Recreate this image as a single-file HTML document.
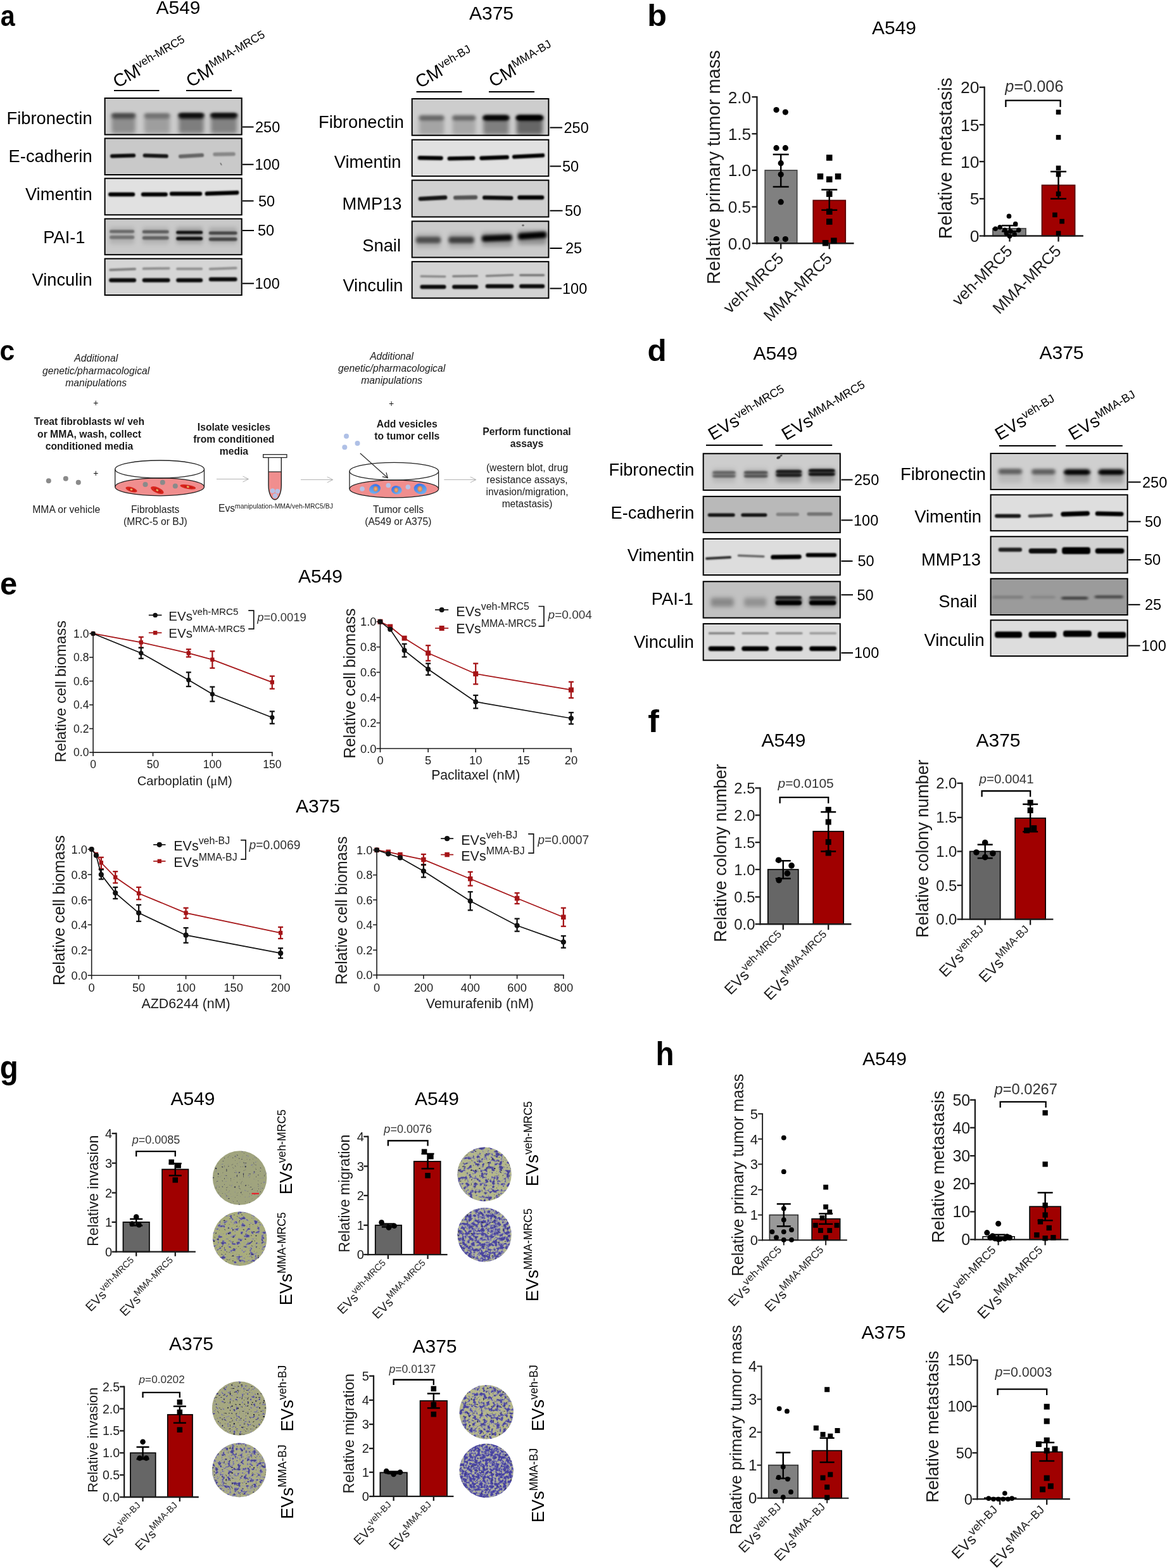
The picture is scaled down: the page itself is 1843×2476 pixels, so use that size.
<!DOCTYPE html>
<html lang="en"><head><meta charset="utf-8"><title>Figure</title>
<style>html,body{margin:0;padding:0;background:#fff}svg{display:block}text{font-family:"Liberation Sans",Arial,Helvetica,sans-serif}</style>
</head><body>
<svg width="1843" height="2476" viewBox="0 0 1843 2476">
<defs><filter id="bl0" x="-50%" y="-50%" width="200%" height="200%"><feGaussianBlur stdDeviation="0.7"/></filter><filter id="bl1" x="-20%" y="-100%" width="140%" height="300%"><feGaussianBlur stdDeviation="1.2 0.9"/></filter><filter id="bl2" x="-20%" y="-100%" width="140%" height="300%"><feGaussianBlur stdDeviation="2 1.4"/></filter><filter id="bl3" x="-20%" y="-100%" width="140%" height="300%"><feGaussianBlur stdDeviation="2.5 2.2"/></filter><filter id="bl4" x="-20%" y="-100%" width="140%" height="300%"><feGaussianBlur stdDeviation="3 3.5"/></filter><clipPath id="c1"><rect x="164.6" y="154" width="218.1" height="59.6"/></clipPath><clipPath id="c2"><rect x="164.6" y="217.5" width="218.1" height="59.5"/></clipPath><clipPath id="c3"><rect x="164.6" y="280.7" width="218.1" height="59.6"/></clipPath><clipPath id="c4"><rect x="164.6" y="344.5" width="218.1" height="58.7"/></clipPath><clipPath id="c5"><rect x="164.6" y="407.5" width="218.1" height="59.5"/></clipPath><clipPath id="c6"><rect x="649.7" y="155" width="217.7" height="59.7"/></clipPath><clipPath id="c7"><rect x="649.7" y="219.7" width="217.7" height="59.5"/></clipPath><clipPath id="c8"><rect x="649.7" y="283.6" width="217.7" height="59.9"/></clipPath><clipPath id="c9"><rect x="649.7" y="348.4" width="217.7" height="59.1"/></clipPath><clipPath id="c10"><rect x="649.7" y="412.2" width="217.7" height="59.5"/></clipPath><clipPath id="c11"><rect x="1109.7" y="715.3" width="218.1" height="59.7"/></clipPath><clipPath id="c12"><rect x="1109.7" y="782.9" width="218.1" height="59.1"/></clipPath><clipPath id="c13"><rect x="1109.7" y="849.9" width="218.1" height="59.1"/></clipPath><clipPath id="c14"><rect x="1109.7" y="917.3" width="218.1" height="59.3"/></clipPath><clipPath id="c15"><rect x="1109.7" y="984" width="218.1" height="59.6"/></clipPath><clipPath id="c16"><rect x="1563.6" y="715" width="218" height="59"/></clipPath><clipPath id="c17"><rect x="1563.6" y="780.4" width="218" height="58.8"/></clipPath><clipPath id="c18"><rect x="1563.6" y="846.3" width="218" height="59.4"/></clipPath><clipPath id="c19"><rect x="1563.6" y="912.8" width="218" height="59.2"/></clipPath><clipPath id="c20"><rect x="1563.6" y="978.3" width="218" height="58.7"/></clipPath><linearGradient id="cg1" x1="0" y1="1" x2="1" y2="0"><stop offset="0" stop-color="#7fbdee"/><stop offset=".55" stop-color="#4f8dea"/><stop offset="1" stop-color="#2f62ea"/></linearGradient><linearGradient id="cg2" x1="0" y1="0" x2="1" y2="1"><stop offset="0" stop-color="#2f62ea"/><stop offset=".45" stop-color="#4f8dea"/><stop offset="1" stop-color="#82c0ee"/></linearGradient><radialGradient id="cn"><stop offset="0" stop-color="#eeb080"/><stop offset="1" stop-color="#d8854a"/></radialGradient><filter id="m1" x="0" y="0" width="1" height="1" color-interpolation-filters="sRGB"><feTurbulence type="fractalNoise" baseFrequency="0.2 0.24" numOctaves="2" seed="3" result="n"/><feTurbulence type="fractalNoise" baseFrequency="0.3 0.34" numOctaves="1" seed="10" result="n2"/><feColorMatrix in="n" type="matrix" values="0 0 0 0 0.5 0 0 0 0 0.5 0 0 0 0 0.6 5 0 0 0 -3.3" result="a"/><feColorMatrix in="n" type="matrix" values="0 0 0 0 0.29 0 0 0 0 0.27 0 0 0 0 0.58 6 0 0 0 -5.4" result="b"/><feColorMatrix in="n2" type="matrix" values="0 0 0 0 0.22 0 0 0 0 0.22 0 0 0 0 0.3 9 0 0 0 -5.94" result="c"/><feMerge result="m"><feMergeNode in="a"/><feMergeNode in="b"/><feMergeNode in="c"/></feMerge><feGaussianBlur in="m" stdDeviation="0.75" result="mb"/><feComposite in="mb" in2="SourceGraphic" operator="atop"/></filter><filter id="m2" x="0" y="0" width="1" height="1" color-interpolation-filters="sRGB"><feTurbulence type="fractalNoise" baseFrequency="0.16 0.18" numOctaves="2" seed="11" result="n"/><feTurbulence type="fractalNoise" baseFrequency="0.3 0.34" numOctaves="1" seed="18" result="n2"/><feColorMatrix in="n" type="matrix" values="0 0 0 0 0.56 0 0 0 0 0.56 0 0 0 0 0.72 5 0 0 0 -2.6" result="a"/><feColorMatrix in="n" type="matrix" values="0 0 0 0 0.29 0 0 0 0 0.27 0 0 0 0 0.58 6 0 0 0 -3.6" result="b"/><feColorMatrix in="n2" type="matrix" values="0 0 0 0 0.2 0 0 0 0 0.2 0 0 0 0 0.3 9 0 0 0 -5.94" result="c"/><feMerge result="m"><feMergeNode in="a"/><feMergeNode in="b"/><feMergeNode in="c"/></feMerge><feGaussianBlur in="m" stdDeviation="0.75" result="mb"/><feComposite in="mb" in2="SourceGraphic" operator="atop"/></filter><filter id="m3" x="0" y="0" width="1" height="1" color-interpolation-filters="sRGB"><feTurbulence type="fractalNoise" baseFrequency="0.17 0.19" numOctaves="2" seed="5" result="n"/><feTurbulence type="fractalNoise" baseFrequency="0.3 0.34" numOctaves="1" seed="12" result="n2"/><feColorMatrix in="n" type="matrix" values="0 0 0 0 0.56 0 0 0 0 0.56 0 0 0 0 0.72 5 0 0 0 -2.25" result="a"/><feColorMatrix in="n" type="matrix" values="0 0 0 0 0.29 0 0 0 0 0.27 0 0 0 0 0.58 6 0 0 0 -3.18" result="b"/><feColorMatrix in="n2" type="matrix" values="0 0 0 0 0.2 0 0 0 0 0.2 0 0 0 0 0.3 9 0 0 0 -5.94" result="c"/><feMerge result="m"><feMergeNode in="a"/><feMergeNode in="b"/><feMergeNode in="c"/></feMerge><feGaussianBlur in="m" stdDeviation="0.75" result="mb"/><feComposite in="mb" in2="SourceGraphic" operator="atop"/></filter><filter id="m4" x="0" y="0" width="1" height="1" color-interpolation-filters="sRGB"><feTurbulence type="fractalNoise" baseFrequency="0.2 0.22" numOctaves="2" seed="8" result="n"/><feTurbulence type="fractalNoise" baseFrequency="0.3 0.34" numOctaves="1" seed="15" result="n2"/><feColorMatrix in="n" type="matrix" values="0 0 0 0 0.56 0 0 0 0 0.56 0 0 0 0 0.72 5 0 0 0 -1.7" result="a"/><feColorMatrix in="n" type="matrix" values="0 0 0 0 0.29 0 0 0 0 0.27 0 0 0 0 0.62 6 0 0 0 -2.7" result="b"/><feColorMatrix in="n2" type="matrix" values="0 0 0 0 0.2 0 0 0 0 0.2 0 0 0 0 0.3 9 0 0 0 -5.94" result="c"/><feMerge result="m"><feMergeNode in="a"/><feMergeNode in="b"/><feMergeNode in="c"/></feMerge><feGaussianBlur in="m" stdDeviation="0.75" result="mb"/><feComposite in="mb" in2="SourceGraphic" operator="atop"/></filter><filter id="m5" x="0" y="0" width="1" height="1" color-interpolation-filters="sRGB"><feTurbulence type="fractalNoise" baseFrequency="0.22 0.25" numOctaves="2" seed="21" result="n"/><feTurbulence type="fractalNoise" baseFrequency="0.32 0.36" numOctaves="1" seed="28" result="n2"/><feColorMatrix in="n" type="matrix" values="0 0 0 0 0.55 0 0 0 0 0.55 0 0 0 0 0.72 5 0 0 0 -2.8" result="a"/><feColorMatrix in="n" type="matrix" values="0 0 0 0 0.26 0 0 0 0 0.24 0 0 0 0 0.55 6 0 0 0 -3.84" result="b"/><feColorMatrix in="n2" type="matrix" values="0 0 0 0 0.15 0 0 0 0 0.15 0 0 0 0 0.22 9 0 0 0 -5.76" result="c"/><feMerge result="m"><feMergeNode in="a"/><feMergeNode in="b"/><feMergeNode in="c"/></feMerge><feGaussianBlur in="m" stdDeviation="0.75" result="mb"/><feComposite in="mb" in2="SourceGraphic" operator="atop"/></filter><filter id="m6" x="0" y="0" width="1" height="1" color-interpolation-filters="sRGB"><feTurbulence type="fractalNoise" baseFrequency="0.2 0.22" numOctaves="2" seed="14" result="n"/><feTurbulence type="fractalNoise" baseFrequency="0.32 0.36" numOctaves="1" seed="21" result="n2"/><feColorMatrix in="n" type="matrix" values="0 0 0 0 0.56 0 0 0 0 0.56 0 0 0 0 0.72 5 0 0 0 -2.25" result="a"/><feColorMatrix in="n" type="matrix" values="0 0 0 0 0.29 0 0 0 0 0.27 0 0 0 0 0.58 6 0 0 0 -3.3" result="b"/><feColorMatrix in="n2" type="matrix" values="0 0 0 0 0.2 0 0 0 0 0.2 0 0 0 0 0.3 9 0 0 0 -5.76" result="c"/><feMerge result="m"><feMergeNode in="a"/><feMergeNode in="b"/><feMergeNode in="c"/></feMerge><feGaussianBlur in="m" stdDeviation="0.75" result="mb"/><feComposite in="mb" in2="SourceGraphic" operator="atop"/></filter><filter id="m7" x="0" y="0" width="1" height="1" color-interpolation-filters="sRGB"><feTurbulence type="fractalNoise" baseFrequency="0.19 0.21" numOctaves="2" seed="17" result="n"/><feTurbulence type="fractalNoise" baseFrequency="0.32 0.36" numOctaves="1" seed="24" result="n2"/><feColorMatrix in="n" type="matrix" values="0 0 0 0 0.56 0 0 0 0 0.56 0 0 0 0 0.72 5 0 0 0 -2.1" result="a"/><feColorMatrix in="n" type="matrix" values="0 0 0 0 0.29 0 0 0 0 0.27 0 0 0 0 0.62 6 0 0 0 -3.06" result="b"/><feColorMatrix in="n2" type="matrix" values="0 0 0 0 0.2 0 0 0 0 0.2 0 0 0 0 0.3 9 0 0 0 -5.76" result="c"/><feMerge result="m"><feMergeNode in="a"/><feMergeNode in="b"/><feMergeNode in="c"/></feMerge><feGaussianBlur in="m" stdDeviation="0.75" result="mb"/><feComposite in="mb" in2="SourceGraphic" operator="atop"/></filter><filter id="m8" x="0" y="0" width="1" height="1" color-interpolation-filters="sRGB"><feTurbulence type="fractalNoise" baseFrequency="0.24 0.26" numOctaves="2" seed="29" result="n"/><feTurbulence type="fractalNoise" baseFrequency="0.32 0.36" numOctaves="1" seed="36" result="n2"/><feColorMatrix in="n" type="matrix" values="0 0 0 0 0.56 0 0 0 0 0.56 0 0 0 0 0.72 5 0 0 0 -1.5" result="a"/><feColorMatrix in="n" type="matrix" values="0 0 0 0 0.28 0 0 0 0 0.26 0 0 0 0 0.63 6 0 0 0 -2.52" result="b"/><feColorMatrix in="n2" type="matrix" values="0 0 0 0 0.2 0 0 0 0 0.2 0 0 0 0 0.3 9 0 0 0 -5.94" result="c"/><feMerge result="m"><feMergeNode in="a"/><feMergeNode in="b"/><feMergeNode in="c"/></feMerge><feGaussianBlur in="m" stdDeviation="0.75" result="mb"/><feComposite in="mb" in2="SourceGraphic" operator="atop"/></filter></defs>
<rect width="1843" height="2476" fill="#fff"/>
<text transform="translate(0.75 40.55) scale(0.87 0.96)" font-size="47.5" font-weight="bold">a</text>
<text transform="translate(1022.22 40.52) scale(1.06 1)" font-size="47.5" font-weight="bold">b</text>
<text transform="translate(-0.41 569.05) scale(0.9 0.94)" font-size="47.5" font-weight="bold">c</text>
<text transform="translate(1022.52 569.52) scale(1.04 1)" font-size="47.5" font-weight="bold">d</text>
<text transform="translate(0.05 938.79) scale(1.03 1.06)" font-size="47.5" font-weight="bold">e</text>
<text transform="translate(1023.21 1156) scale(1.11 1.06)" font-size="47.5" font-weight="bold">f</text>
<text transform="translate(-0.3 1702.53) scale(1 1.1)" font-size="47.5" font-weight="bold">g</text>
<text transform="translate(1035.47 1682.3) scale(1 1.08)" font-size="47.5" font-weight="bold">h</text>
<text x="281.5" y="21.7" font-size="30" text-anchor="middle">A549</text>
<text x="776" y="30.5" font-size="30" text-anchor="middle">A375</text>
<text x="1412" y="54" font-size="30" text-anchor="middle">A549</text>
<text x="1224.5" y="567.5" font-size="30" text-anchor="middle">A549</text>
<text x="1676.5" y="566.5" font-size="30" text-anchor="middle">A375</text>
<text x="506" y="920" font-size="30" text-anchor="middle">A549</text>
<text x="502" y="1283" font-size="30" text-anchor="middle">A375</text>
<text x="1237.5" y="1179" font-size="30" text-anchor="middle">A549</text>
<text x="1576.5" y="1179" font-size="30" text-anchor="middle">A375</text>
<text x="304.5" y="1745.2" font-size="30" text-anchor="middle">A549</text>
<text x="690" y="1745.2" font-size="30" text-anchor="middle">A549</text>
<text x="302" y="2132" font-size="30" text-anchor="middle">A375</text>
<text x="686.5" y="2136.4" font-size="30" text-anchor="middle">A375</text>
<text x="1397" y="1682.3" font-size="30" text-anchor="middle">A549</text>
<text x="1395.5" y="2114" font-size="30" text-anchor="middle">A375</text>
<text transform="translate(185.5 139.5) rotate(-30)" font-size="28.5">CM<tspan dy="-10.26" font-size="17.96">veh-MRC5</tspan></text>
<text transform="translate(301 138.5) rotate(-30)" font-size="28.5">CM<tspan dy="-10.26" font-size="17.96">MMA-MRC5</tspan></text>
<line x1="180" y1="143" x2="251.5" y2="143" stroke="#000" stroke-width="2"/>
<line x1="294" y1="143" x2="366" y2="143" stroke="#000" stroke-width="2"/>
<g clip-path="url(#c1)">
<rect x="164.6" y="154" width="218.1" height="59.6" fill="#cbcbcb"/>
<g filter="url(#bl4)">
<rect x="176.27" y="181" width="37.53" height="30" rx="4" fill="#000" opacity="0.3"/>
<rect x="227.88" y="181" width="40.35" height="30" rx="4" fill="#000" opacity="0.22"/>
<rect x="282.29" y="181" width="39.41" height="30" rx="4" fill="#000" opacity="0.38"/>
<rect x="332.96" y="181" width="41.28" height="30" rx="4" fill="#000" opacity="0.36"/>
</g>
<g filter="url(#bl3)">
<rect x="176.27" y="178.5" width="37.53" height="9" rx="4" fill="#000" opacity="0.45"/>
<rect x="227.88" y="178.5" width="40.35" height="9" rx="4" fill="#000" opacity="0.28"/>
<rect x="282.29" y="178.5" width="39.41" height="9" rx="4" fill="#000" opacity="0.85"/>
<rect x="332.96" y="178.5" width="41.28" height="9" rx="4" fill="#000" opacity="0.8"/>
</g>
<g filter="url(#bl2)">
<rect x="176.27" y="179" width="37.53" height="5" rx="2.5" fill="#000" opacity="0.2"/>
<rect x="227.88" y="179" width="40.35" height="5" rx="2.5" fill="#000" opacity="0.1"/>
<rect x="282.29" y="179" width="39.41" height="5" rx="2.5" fill="#000" opacity="0.6"/>
<rect x="332.96" y="179" width="41.28" height="5" rx="2.5" fill="#000" opacity="0.7"/>
</g>
</g>
<rect x="165.6" y="155" width="216.1" height="57.6" fill="none" stroke="#000" stroke-width="2"/>
<text x="145.6" y="195.6" font-size="27.3" text-anchor="end">Fibronectin</text>
<line x1="383" y1="200.5" x2="400.5" y2="200.5" stroke="#000" stroke-width="2"/>
<text x="403" y="208.84" font-size="23.5">250</text>
<g clip-path="url(#c2)">
<rect x="164.6" y="217.5" width="218.1" height="59.5" fill="#c9c9c9"/>
<g filter="url(#bl1)">
<rect x="174.02" y="243" width="40.16" height="6" rx="3" fill="#000" opacity="0.95" transform="rotate(-1.5 194.1 246)"/>
<rect x="225.62" y="243" width="40.16" height="6" rx="3" fill="#000" opacity="0.9" transform="rotate(2 245.7 246)"/>
<rect x="281.92" y="243" width="40.16" height="6" rx="3" fill="#000" opacity="0.5" transform="rotate(-3 302 246)"/>
<rect x="336.34" y="240.5" width="35.47" height="6" rx="3" fill="#000" opacity="0.33" transform="rotate(-1 354.07 243.5)"/>
</g>
</g>
<rect x="165.6" y="218.5" width="216.1" height="57.5" fill="none" stroke="#000" stroke-width="2"/>
<ellipse cx="349" cy="259" rx="0.8" ry="2.6" fill="#000" opacity="0.5" filter="url(#bl0)" transform="rotate(-30 349 259)"/>
<text x="145.6" y="256" font-size="27.3" text-anchor="end">E-cadherin</text>
<line x1="383" y1="259.7" x2="400.5" y2="259.7" stroke="#000" stroke-width="2"/>
<text x="402.5" y="268.04" font-size="23.5">100</text>
<g clip-path="url(#c3)">
<rect x="164.6" y="280.7" width="218.1" height="59.6" fill="#e1e1e1"/>
<g filter="url(#bl1)">
<rect x="171.02" y="303.7" width="42.22" height="6.6" rx="3.3" fill="#000" opacity="1"/>
<rect x="222.81" y="303.7" width="42.03" height="6.6" rx="3.3" fill="#000" opacity="1"/>
<rect x="267.85" y="302.7" width="51.42" height="6.6" rx="3.3" fill="#000" opacity="1"/>
<rect x="323.58" y="301.7" width="53.86" height="6.6" rx="3.3" fill="#000" opacity="1" transform="rotate(-2 350.51 305)"/>
</g>
</g>
<rect x="165.6" y="281.7" width="216.1" height="57.6" fill="none" stroke="#000" stroke-width="2"/>
<text x="145.6" y="316.4" font-size="27.3" text-anchor="end">Vimentin</text>
<line x1="383" y1="317.3" x2="400.5" y2="317.3" stroke="#000" stroke-width="2"/>
<text x="408" y="325.64" font-size="23.5">50</text>
<g clip-path="url(#c4)">
<rect x="164.6" y="344.5" width="218.1" height="58.7" fill="#c9c9c9"/>
<g filter="url(#bl4)">
<rect x="172.89" y="359" width="39.41" height="26" rx="4" fill="#000" opacity="0.12"/>
<rect x="224.69" y="359" width="42.03" height="26" rx="4" fill="#000" opacity="0.12"/>
<rect x="278.17" y="359" width="42.03" height="26" rx="4" fill="#000" opacity="0.2"/>
<rect x="329.77" y="359" width="44.85" height="26" rx="4" fill="#000" opacity="0.15"/>
</g>
<g filter="url(#bl1)">
<rect x="172.89" y="363.1" width="39.41" height="5" rx="2.5" fill="#000" opacity="0.4"/>
<rect x="224.69" y="363.6" width="42.03" height="5" rx="2.5" fill="#000" opacity="0.48"/>
<rect x="278.17" y="364.6" width="42.03" height="5" rx="2.5" fill="#000" opacity="0.9"/>
<rect x="329.77" y="365.6" width="44.85" height="5" rx="2.5" fill="#000" opacity="0.6"/>
</g>
<g filter="url(#bl1)">
<rect x="172.89" y="372.05" width="39.41" height="5.5" rx="2.75" fill="#000" opacity="0.35"/>
<rect x="224.69" y="373.05" width="42.03" height="5.5" rx="2.75" fill="#000" opacity="0.45"/>
<rect x="278.17" y="374.05" width="42.03" height="5.5" rx="2.75" fill="#000" opacity="0.9"/>
<rect x="329.77" y="375.05" width="44.85" height="5.5" rx="2.75" fill="#000" opacity="0.6"/>
</g>
</g>
<rect x="165.6" y="345.5" width="216.1" height="56.7" fill="none" stroke="#000" stroke-width="2"/>
<text x="134.5" y="383.5" font-size="27.3" text-anchor="end">PAI-1</text>
<line x1="383" y1="364" x2="401" y2="364" stroke="#000" stroke-width="2"/>
<text x="407" y="372.34" font-size="23.5">50</text>
<g clip-path="url(#c5)">
<rect x="164.6" y="407.5" width="218.1" height="59.5" fill="#d5d5d5"/>
<g filter="url(#bl1)">
<rect x="172.14" y="423.5" width="42.97" height="4" rx="2" fill="#000" opacity="0.4" transform="rotate(-2 193.63 425.5)"/>
<rect x="224.69" y="422" width="43.91" height="4" rx="2" fill="#000" opacity="0.33" transform="rotate(-1 246.64 424)"/>
<rect x="278.17" y="422.5" width="42.03" height="4" rx="2" fill="#000" opacity="0.33"/>
<rect x="329.77" y="422" width="44.85" height="4" rx="2" fill="#000" opacity="0.33" transform="rotate(-2 352.2 424)"/>
</g>
<g filter="url(#bl1)">
<rect x="172.14" y="439.2" width="42.97" height="6.6" rx="3.3" fill="#000" opacity="0.95"/>
<rect x="224.69" y="439.2" width="43.91" height="6.6" rx="3.3" fill="#000" opacity="0.95"/>
<rect x="278.17" y="439.2" width="42.03" height="6.6" rx="3.3" fill="#000" opacity="0.95"/>
<rect x="329.77" y="437.7" width="44.85" height="6.6" rx="3.3" fill="#000" opacity="0.95"/>
</g>
</g>
<rect x="165.6" y="408.5" width="216.1" height="57.5" fill="none" stroke="#000" stroke-width="2"/>
<text x="145.6" y="450.8" font-size="27.3" text-anchor="end">Vinculin</text>
<line x1="383" y1="447.6" x2="401" y2="447.6" stroke="#000" stroke-width="2"/>
<text x="402.5" y="455.94" font-size="23.5">100</text>
<text transform="translate(663 140) rotate(-30)" font-size="28.5">CM<tspan dy="-10.26" font-size="17.96">veh-BJ</tspan></text>
<text transform="translate(779 138.5) rotate(-30)" font-size="28.5">CM<tspan dy="-10.26" font-size="17.96">MMA-BJ</tspan></text>
<line x1="657.6" y1="145" x2="729.5" y2="145" stroke="#000" stroke-width="2"/>
<line x1="772" y1="145" x2="844" y2="145" stroke="#000" stroke-width="2"/>
<g clip-path="url(#c6)">
<rect x="649.7" y="155" width="217.7" height="59.7" fill="#cdcdcd"/>
<g filter="url(#bl4)">
<rect x="661.9" y="185" width="39.41" height="28" rx="4" fill="#000" opacity="0.2"/>
<rect x="714.44" y="185" width="36.59" height="28" rx="4" fill="#000" opacity="0.18"/>
<rect x="763.23" y="185" width="40.35" height="28" rx="4" fill="#000" opacity="0.38"/>
<rect x="815.78" y="185" width="41.28" height="28" rx="4" fill="#000" opacity="0.5"/>
</g>
<g filter="url(#bl3)">
<rect x="661.9" y="181.5" width="39.41" height="9" rx="4" fill="#000" opacity="0.35"/>
<rect x="714.44" y="181.5" width="36.59" height="9" rx="4" fill="#000" opacity="0.35"/>
<rect x="763.23" y="181.5" width="40.35" height="9" rx="4" fill="#000" opacity="0.9"/>
<rect x="815.78" y="181.5" width="41.28" height="9" rx="4" fill="#000" opacity="1"/>
</g>
<g filter="url(#bl2)">
<rect x="661.9" y="183" width="39.41" height="6" rx="3" fill="#000" opacity="0.1"/>
<rect x="714.44" y="183" width="36.59" height="6" rx="3" fill="#000" opacity="0.1"/>
<rect x="763.23" y="183" width="40.35" height="6" rx="3" fill="#000" opacity="0.7"/>
<rect x="815.78" y="183" width="41.28" height="6" rx="3" fill="#000" opacity="1"/>
</g>
</g>
<rect x="650.7" y="156" width="215.7" height="57.7" fill="none" stroke="#000" stroke-width="2"/>
<text x="638" y="201.5" font-size="27.3" text-anchor="end">Fibronectin</text>
<line x1="868.5" y1="201.5" x2="888" y2="201.5" stroke="#000" stroke-width="2"/>
<text x="890.5" y="209.84" font-size="23.5">250</text>
<g clip-path="url(#c7)">
<rect x="649.7" y="219.7" width="217.7" height="59.5" fill="#e1e1e1"/>
<g filter="url(#bl1)">
<rect x="659.65" y="246.3" width="40.16" height="6.4" rx="3.2" fill="#000" opacity="1" transform="rotate(1 679.73 249.5)"/>
<rect x="706.56" y="246.8" width="43.91" height="6.4" rx="3.2" fill="#000" opacity="1" transform="rotate(-1 728.52 250)"/>
<rect x="757.23" y="245.8" width="46.73" height="6.4" rx="3.2" fill="#000" opacity="1" transform="rotate(-2 780.59 249)"/>
<rect x="808.83" y="243.3" width="51.42" height="6.4" rx="3.2" fill="#000" opacity="1" transform="rotate(-3 834.54 246.5)"/>
</g>
</g>
<rect x="650.7" y="220.7" width="215.7" height="57.5" fill="none" stroke="#000" stroke-width="2"/>
<text x="633.5" y="265" font-size="27.3" text-anchor="end">Vimentin</text>
<line x1="868.5" y1="262.5" x2="886" y2="262.5" stroke="#000" stroke-width="2"/>
<text x="888" y="270.84" font-size="23.5">50</text>
<g clip-path="url(#c8)">
<rect x="649.7" y="283.6" width="217.7" height="59.9" fill="#d0d0d0"/>
<g filter="url(#bl1)">
<rect x="660.59" y="309.6" width="45.79" height="6.6" rx="3.3" fill="#000" opacity="0.9" transform="rotate(-3 683.48 312.9)"/>
<rect x="715.94" y="308.6" width="38.28" height="6.6" rx="3.3" fill="#000" opacity="0.6" transform="rotate(-1 735.09 311.9)"/>
<rect x="761.92" y="309.1" width="48.6" height="6.6" rx="3.3" fill="#000" opacity="0.95" transform="rotate(1 786.22 312.4)"/>
<rect x="817.28" y="308.6" width="42.03" height="6.6" rx="3.3" fill="#000" opacity="1"/>
</g>
</g>
<rect x="650.7" y="284.6" width="215.7" height="57.9" fill="none" stroke="#000" stroke-width="2"/>
<text x="634.5" y="330.5" font-size="27.3" text-anchor="end">MMP13</text>
<line x1="868.5" y1="332.7" x2="888.5" y2="332.7" stroke="#000" stroke-width="2"/>
<text x="892" y="341.04" font-size="23.5">50</text>
<g clip-path="url(#c9)">
<rect x="649.7" y="348.4" width="217.7" height="59.1" fill="#cbcbcb"/>
<g filter="url(#bl4)">
<rect x="656.83" y="369" width="39.22" height="22" rx="4" fill="#000" opacity="0.15"/>
<rect x="708.44" y="369" width="40.16" height="22" rx="4" fill="#000" opacity="0.18"/>
<rect x="760.98" y="367" width="47.66" height="22" rx="4" fill="#000" opacity="0.25"/>
<rect x="818.22" y="364" width="44.85" height="22" rx="4" fill="#000" opacity="0.3"/>
</g>
<g filter="url(#bl3)">
<rect x="656.83" y="374" width="39.22" height="10" rx="4" fill="#000" opacity="0.55"/>
<rect x="708.44" y="374" width="40.16" height="10" rx="4" fill="#000" opacity="0.62"/>
<rect x="760.98" y="371" width="47.66" height="10" rx="4" fill="#000" opacity="0.95" transform="rotate(-2 784.81 376)"/>
<rect x="818.22" y="367" width="44.85" height="10" rx="4" fill="#000" opacity="1" transform="rotate(-4 840.64 372)"/>
</g>
</g>
<rect x="650.7" y="349.4" width="215.7" height="57.1" fill="none" stroke="#000" stroke-width="2"/>
<ellipse cx="826" cy="355.8" rx="2" ry="1.6" fill="#000" opacity="0.45" filter="url(#bl0)"/>
<text x="633" y="397" font-size="27.3" text-anchor="end">Snail</text>
<line x1="868.5" y1="392" x2="887.5" y2="392" stroke="#000" stroke-width="2"/>
<text x="893" y="400.34" font-size="23.5">25</text>
<g clip-path="url(#c10)">
<rect x="649.7" y="412.2" width="217.7" height="59.5" fill="#d3d3d3"/>
<g filter="url(#bl1)">
<rect x="663.4" y="434.75" width="41.1" height="3.5" rx="1.75" fill="#000" opacity="0.35" transform="rotate(1 683.95 436.5)"/>
<rect x="714.07" y="434.25" width="41.1" height="3.5" rx="1.75" fill="#000" opacity="0.4" transform="rotate(-1 734.62 436)"/>
<rect x="766.61" y="433.25" width="44.85" height="3.5" rx="1.75" fill="#000" opacity="0.4" transform="rotate(-2 789.04 435)"/>
<rect x="820.09" y="432.75" width="40.16" height="3.5" rx="1.75" fill="#000" opacity="0.45"/>
</g>
<g filter="url(#bl1)">
<rect x="663.4" y="449.7" width="41.1" height="6.6" rx="3.3" fill="#000" opacity="0.95"/>
<rect x="714.07" y="449.7" width="41.1" height="6.6" rx="3.3" fill="#000" opacity="0.95"/>
<rect x="766.61" y="448.7" width="44.85" height="6.6" rx="3.3" fill="#000" opacity="0.95"/>
<rect x="820.09" y="448.7" width="40.16" height="6.6" rx="3.3" fill="#000" opacity="0.95"/>
</g>
</g>
<rect x="650.7" y="413.2" width="215.7" height="57.5" fill="none" stroke="#000" stroke-width="2"/>
<text x="636.5" y="459.5" font-size="27.3" text-anchor="end">Vinculin</text>
<line x1="868.5" y1="455.5" x2="887" y2="455.5" stroke="#000" stroke-width="2"/>
<text x="888" y="463.84" font-size="23.5">100</text>
<text transform="translate(1125.4 696) rotate(-30.5)" font-size="28">EVs<tspan dy="-9.52" font-size="18.2">veh-MRC5</tspan></text>
<text transform="translate(1241.6 696) rotate(-30.5)" font-size="28">EVs<tspan dy="-9.52" font-size="18.2">MMA-MRC5</tspan></text>
<line x1="1115" y1="703" x2="1204.5" y2="703" stroke="#000" stroke-width="2"/>
<line x1="1224.5" y1="703" x2="1314.2" y2="703" stroke="#000" stroke-width="2"/>
<g clip-path="url(#c11)">
<rect x="1109.7" y="715.3" width="218.1" height="59.7" fill="#cdcdcd"/>
<g filter="url(#bl4)">
<rect x="1125.28" y="740" width="36.4" height="22" rx="4" fill="#000" opacity="0.1"/>
<rect x="1175.01" y="740" width="37.34" height="22" rx="4" fill="#000" opacity="0.1"/>
<rect x="1225.67" y="740" width="40.16" height="22" rx="4" fill="#000" opacity="0.25"/>
<rect x="1277.28" y="740" width="41.1" height="22" rx="4" fill="#000" opacity="0.25"/>
</g>
<g filter="url(#bl2)">
<rect x="1125.28" y="743.5" width="36.4" height="11" rx="4" fill="#000" opacity="0.3"/>
<rect x="1175.01" y="743.5" width="37.34" height="11" rx="4" fill="#000" opacity="0.35"/>
<rect x="1225.67" y="742" width="40.16" height="11" rx="4" fill="#000" opacity="0.6"/>
<rect x="1277.28" y="740.5" width="41.1" height="11" rx="4" fill="#000" opacity="0.6"/>
</g>
<g filter="url(#bl1)">
<rect x="1125.28" y="744" width="36.4" height="4" rx="2" fill="#000" opacity="0.22"/>
<rect x="1175.01" y="744" width="37.34" height="4" rx="2" fill="#000" opacity="0.3"/>
<rect x="1225.67" y="742.5" width="40.16" height="4" rx="2" fill="#000" opacity="0.6"/>
<rect x="1277.28" y="741" width="41.1" height="4" rx="2" fill="#000" opacity="0.7"/>
</g>
<g filter="url(#bl1)">
<rect x="1125.28" y="750" width="36.4" height="4" rx="2" fill="#000" opacity="0.22"/>
<rect x="1175.01" y="750" width="37.34" height="4" rx="2" fill="#000" opacity="0.3"/>
<rect x="1225.67" y="748.5" width="40.16" height="4" rx="2" fill="#000" opacity="0.55"/>
<rect x="1277.28" y="747" width="41.1" height="4" rx="2" fill="#000" opacity="0.65"/>
</g>
</g>
<rect x="1110.7" y="716.3" width="216.1" height="57.7" fill="none" stroke="#000" stroke-width="2"/>
<ellipse cx="1229.5" cy="722.5" rx="3.2" ry="2" fill="#000" opacity="0.75" filter="url(#bl0)" transform="rotate(-25 1229.5 722.5)"/>
<ellipse cx="1233.5" cy="719.5" rx="2.2" ry="1.3" fill="#000" opacity="0.7" filter="url(#bl0)" transform="rotate(-25 1233.5 719.5)"/>
<text x="1096.5" y="750.6" font-size="27.3" text-anchor="end">Fibronectin</text>
<line x1="1328.5" y1="757.6" x2="1346.5" y2="757.6" stroke="#000" stroke-width="2"/>
<text x="1349" y="765.94" font-size="23.5">250</text>
<g clip-path="url(#c12)">
<rect x="1109.7" y="782.9" width="218.1" height="59.1" fill="#b9b9b9"/>
<g filter="url(#bl1)">
<rect x="1117.77" y="810.55" width="42.97" height="5.5" rx="2.75" fill="#000" opacity="0.9"/>
<rect x="1170.32" y="810.55" width="41.1" height="5.5" rx="2.75" fill="#000" opacity="0.9"/>
<rect x="1225.67" y="809.55" width="36.4" height="5.5" rx="2.75" fill="#000" opacity="0.3"/>
<rect x="1274.46" y="809.05" width="40.16" height="5.5" rx="2.75" fill="#000" opacity="0.38"/>
</g>
</g>
<rect x="1110.7" y="783.9" width="216.1" height="57.1" fill="none" stroke="#000" stroke-width="2"/>
<text x="1096.5" y="818.5" font-size="27.3" text-anchor="end">E-cadherin</text>
<line x1="1328.5" y1="821.4" x2="1346.5" y2="821.4" stroke="#000" stroke-width="2"/>
<text x="1348" y="829.74" font-size="23.5">100</text>
<g clip-path="url(#c13)">
<rect x="1109.7" y="849.9" width="218.1" height="59.1" fill="#dddddd"/>
<g filter="url(#bl1)">
<rect x="1114.02" y="879" width="41.1" height="4" rx="2" fill="#000" opacity="0.8" transform="rotate(-3 1134.57 881)"/>
<rect x="1164.69" y="876.25" width="42.97" height="3.5" rx="1.75" fill="#000" opacity="0.55" transform="rotate(2 1186.17 878)"/>
<rect x="1217.23" y="876" width="48.6" height="7" rx="3.5" fill="#000" opacity="1" transform="rotate(-1 1241.53 879.5)"/>
<rect x="1272.59" y="873.25" width="48.6" height="6.5" rx="3.25" fill="#000" opacity="1"/>
</g>
</g>
<rect x="1110.7" y="850.9" width="216.1" height="57.1" fill="none" stroke="#000" stroke-width="2"/>
<text x="1096.5" y="886.4" font-size="27.3" text-anchor="end">Vimentin</text>
<line x1="1328.5" y1="886" x2="1346.5" y2="886" stroke="#000" stroke-width="2"/>
<text x="1354.5" y="894.34" font-size="23.5">50</text>
<g clip-path="url(#c14)">
<rect x="1109.7" y="917.3" width="218.1" height="59.3" fill="#c1c1c1"/>
<g filter="url(#bl4)">
<rect x="1122.46" y="944" width="36.4" height="14" rx="4" fill="#000" opacity="0.3"/>
<rect x="1175.01" y="944" width="35.47" height="14" rx="4" fill="#000" opacity="0.25"/>
<rect x="1224.73" y="944" width="41.1" height="14" rx="4" fill="#000" opacity="0.4"/>
<rect x="1278.22" y="944" width="42.03" height="14" rx="4" fill="#000" opacity="0.35"/>
</g>
<g filter="url(#bl2)">
<rect x="1224.73" y="942" width="41.1" height="12" rx="4" fill="#000" opacity="0.45"/>
<rect x="1278.22" y="942" width="42.03" height="12" rx="4" fill="#000" opacity="0.4"/>
</g>
<g filter="url(#bl1)">
<rect x="1224.73" y="941.25" width="41.1" height="4.5" rx="2.25" fill="#000" opacity="0.7"/>
<rect x="1278.22" y="941.25" width="42.03" height="4.5" rx="2.25" fill="#000" opacity="0.6"/>
</g>
<g filter="url(#bl1)">
<rect x="1224.73" y="948.5" width="41.1" height="7" rx="3.5" fill="#000" opacity="1"/>
<rect x="1278.22" y="948.5" width="42.03" height="7" rx="3.5" fill="#000" opacity="1"/>
</g>
</g>
<rect x="1110.7" y="918.3" width="216.1" height="57.3" fill="none" stroke="#000" stroke-width="2"/>
<text x="1095" y="954.8" font-size="27.3" text-anchor="end">PAI-1</text>
<line x1="1328.5" y1="939.3" x2="1347" y2="939.3" stroke="#000" stroke-width="2"/>
<text x="1353.5" y="947.64" font-size="23.5">50</text>
<g clip-path="url(#c15)">
<rect x="1109.7" y="984" width="218.1" height="59.6" fill="#dbdbdb"/>
<g filter="url(#bl1)">
<rect x="1118.71" y="998.25" width="42.03" height="3.5" rx="1.75" fill="#000" opacity="0.4"/>
<rect x="1171.25" y="998.25" width="42.97" height="3.5" rx="1.75" fill="#000" opacity="0.35"/>
<rect x="1224.73" y="998.25" width="42.97" height="3.5" rx="1.75" fill="#000" opacity="0.35"/>
<rect x="1278.22" y="998.25" width="42.97" height="3.5" rx="1.75" fill="#000" opacity="0.3"/>
</g>
<g filter="url(#bl1)">
<rect x="1118.71" y="1020.45" width="42.03" height="7.5" rx="3.75" fill="#000" opacity="1"/>
<rect x="1171.25" y="1020.45" width="42.97" height="7.5" rx="3.75" fill="#000" opacity="1"/>
<rect x="1224.73" y="1020.45" width="42.97" height="7.5" rx="3.75" fill="#000" opacity="1"/>
<rect x="1278.22" y="1020.45" width="42.97" height="7.5" rx="3.75" fill="#000" opacity="1"/>
</g>
</g>
<rect x="1110.7" y="985" width="216.1" height="57.6" fill="none" stroke="#000" stroke-width="2"/>
<text x="1096" y="1022.6" font-size="27.3" text-anchor="end">Vinculin</text>
<line x1="1328.5" y1="1031" x2="1347" y2="1031" stroke="#000" stroke-width="2"/>
<text x="1349" y="1039.34" font-size="23.5">100</text>
<text transform="translate(1578.5 696) rotate(-30.5)" font-size="28">EVs<tspan dy="-9.52" font-size="18.2">veh-BJ</tspan></text>
<text transform="translate(1694.5 696) rotate(-30.5)" font-size="28">EVs<tspan dy="-9.52" font-size="18.2">MMA-BJ</tspan></text>
<line x1="1578" y1="704" x2="1667.5" y2="704" stroke="#000" stroke-width="2"/>
<line x1="1683" y1="704" x2="1772.8" y2="704" stroke="#000" stroke-width="2"/>
<g clip-path="url(#c16)">
<rect x="1563.6" y="715" width="218" height="59" fill="#cfcfcf"/>
<g filter="url(#bl4)">
<rect x="1576.72" y="741" width="37.34" height="22" rx="4" fill="#000" opacity="0.1"/>
<rect x="1629.27" y="741" width="37.34" height="22" rx="4" fill="#000" opacity="0.1"/>
<rect x="1680.87" y="741" width="40.16" height="22" rx="4" fill="#000" opacity="0.25"/>
<rect x="1735.29" y="741" width="39.22" height="22" rx="4" fill="#000" opacity="0.22"/>
</g>
<g filter="url(#bl3)">
<rect x="1576.72" y="740.25" width="37.34" height="8.5" rx="4" fill="#000" opacity="0.5"/>
<rect x="1629.27" y="740.75" width="37.34" height="8.5" rx="4" fill="#000" opacity="0.5"/>
<rect x="1680.87" y="741.25" width="40.16" height="8.5" rx="4" fill="#000" opacity="0.95"/>
<rect x="1735.29" y="741.25" width="39.22" height="8.5" rx="4" fill="#000" opacity="0.95"/>
</g>
<g filter="url(#bl2)">
<rect x="1680.87" y="744" width="40.16" height="4" rx="2" fill="#000" opacity="0.6"/>
<rect x="1735.29" y="744" width="39.22" height="4" rx="2" fill="#000" opacity="0.6"/>
</g>
</g>
<rect x="1564.6" y="716" width="216" height="57" fill="none" stroke="#000" stroke-width="2"/>
<text x="1557" y="758.3" font-size="27.3" text-anchor="end">Fibronectin</text>
<line x1="1782" y1="761.3" x2="1801.5" y2="761.3" stroke="#000" stroke-width="2"/>
<text x="1804" y="769.64" font-size="23.5">250</text>
<g clip-path="url(#c17)">
<rect x="1563.6" y="780.4" width="218" height="58.8" fill="#dedede"/>
<g filter="url(#bl1)">
<rect x="1571.09" y="811.8" width="41.1" height="6" rx="3" fill="#000" opacity="0.9"/>
<rect x="1623.64" y="811.8" width="39.22" height="5" rx="2.5" fill="#000" opacity="0.7" transform="rotate(-2 1643.25 814.3)"/>
<rect x="1675.24" y="807.55" width="45.79" height="7.5" rx="3.75" fill="#000" opacity="1" transform="rotate(-2 1698.13 811.3)"/>
<rect x="1729.66" y="807.8" width="44.85" height="7" rx="3.5" fill="#000" opacity="1" transform="rotate(1 1752.08 811.3)"/>
</g>
</g>
<rect x="1564.6" y="781.4" width="216" height="56.8" fill="none" stroke="#000" stroke-width="2"/>
<text x="1550" y="824.6" font-size="27.3" text-anchor="end">Vimentin</text>
<line x1="1782" y1="823.6" x2="1801.5" y2="823.6" stroke="#000" stroke-width="2"/>
<text x="1808" y="831.94" font-size="23.5">50</text>
<g clip-path="url(#c18)">
<rect x="1563.6" y="846.3" width="218" height="59.4" fill="#d2d2d2"/>
<g filter="url(#bl1)">
<rect x="1576.72" y="864.75" width="37.34" height="6.5" rx="3.25" fill="#000" opacity="0.85"/>
<rect x="1624.57" y="866" width="44.85" height="8" rx="4" fill="#000" opacity="0.95"/>
<rect x="1677.12" y="864" width="44.85" height="11" rx="4" fill="#000" opacity="1"/>
<rect x="1729.66" y="865.75" width="45.79" height="8.5" rx="4" fill="#000" opacity="1"/>
</g>
</g>
<rect x="1564.6" y="847.3" width="216" height="57.4" fill="none" stroke="#000" stroke-width="2"/>
<text x="1549" y="893" font-size="27.3" text-anchor="end">MMP13</text>
<line x1="1782" y1="884" x2="1801.5" y2="884" stroke="#000" stroke-width="2"/>
<text x="1807" y="892.34" font-size="23.5">50</text>
<g clip-path="url(#c19)">
<rect x="1563.6" y="912.8" width="218" height="59.2" fill="#9b9b9b"/>
<g filter="url(#bl2)">
<rect x="1567.34" y="940.5" width="48.6" height="5" rx="2.5" fill="#000" opacity="0.18"/>
<rect x="1627.39" y="940.5" width="39.22" height="5" rx="2.5" fill="#000" opacity="0.12"/>
<rect x="1676.18" y="942" width="42.03" height="5" rx="2.5" fill="#000" opacity="0.55"/>
<rect x="1728.72" y="940" width="44.85" height="5" rx="2.5" fill="#000" opacity="0.5"/>
</g>
</g>
<rect x="1564.6" y="913.8" width="216" height="57.2" fill="none" stroke="#000" stroke-width="2"/>
<text x="1543" y="958.8" font-size="27.3" text-anchor="end">Snail</text>
<line x1="1782" y1="954.8" x2="1800.5" y2="954.8" stroke="#000" stroke-width="2"/>
<text x="1808" y="963.14" font-size="23.5">25</text>
<g clip-path="url(#c20)">
<rect x="1563.6" y="978.3" width="218" height="58.7" fill="#dddddd"/>
<g filter="url(#bl1)">
<rect x="1571.09" y="997.3" width="42.97" height="10" rx="4" fill="#000" opacity="1"/>
<rect x="1624.57" y="997.3" width="43.91" height="10" rx="4" fill="#000" opacity="1"/>
<rect x="1678.99" y="995.8" width="44.85" height="10" rx="4" fill="#000" opacity="1"/>
<rect x="1733.41" y="997.8" width="44.85" height="10" rx="4" fill="#000" opacity="1"/>
</g>
</g>
<rect x="1564.6" y="979.3" width="216" height="56.7" fill="none" stroke="#000" stroke-width="2"/>
<text x="1554.6" y="1020" font-size="27.3" text-anchor="end">Vinculin</text>
<line x1="1782" y1="1019.6" x2="1800.5" y2="1019.6" stroke="#000" stroke-width="2"/>
<text x="1802.5" y="1027.94" font-size="23.5">100</text>
<rect x="1208.2" y="268.92" width="50.52" height="115.33" fill="#808080" stroke="#444" stroke-width="1.7"/>
<rect x="1284.23" y="316.38" width="51.03" height="67.87" fill="#a00000" stroke="#500" stroke-width="1.7"/>
<line x1="1195.44" y1="151.94" x2="1195.44" y2="385.4" stroke="#1c1c1c" stroke-width="2.3"/>
<line x1="1194.29" y1="384.25" x2="1348.53" y2="384.25" stroke="#1c1c1c" stroke-width="2.3"/>
<line x1="1187.44" y1="153.09" x2="1195.44" y2="153.09" stroke="#1c1c1c" stroke-width="2.3"/>
<text x="1186.26" y="162.56" font-size="26.3" text-anchor="end" fill="#1c1c1c">2.0</text>
<line x1="1187.44" y1="211.26" x2="1195.44" y2="211.26" stroke="#1c1c1c" stroke-width="2.3"/>
<text x="1186.26" y="220.73" font-size="26.3" text-anchor="end" fill="#1c1c1c">1.5</text>
<line x1="1187.44" y1="268.92" x2="1195.44" y2="268.92" stroke="#1c1c1c" stroke-width="2.3"/>
<text x="1186.26" y="278.39" font-size="26.3" text-anchor="end" fill="#1c1c1c">1.0</text>
<line x1="1187.44" y1="326.59" x2="1195.44" y2="326.59" stroke="#1c1c1c" stroke-width="2.3"/>
<text x="1186.26" y="336.05" font-size="26.3" text-anchor="end" fill="#1c1c1c">0.5</text>
<line x1="1187.44" y1="384.25" x2="1195.44" y2="384.25" stroke="#1c1c1c" stroke-width="2.3"/>
<text x="1186.26" y="393.72" font-size="26.3" text-anchor="end" fill="#1c1c1c">0.0</text>
<line x1="1233.2" y1="384.25" x2="1233.2" y2="393.25" stroke="#1c1c1c" stroke-width="2.3"/>
<line x1="1309.75" y1="384.25" x2="1309.75" y2="393.25" stroke="#1c1c1c" stroke-width="2.3"/>
<line x1="1233.2" y1="243.92" x2="1233.2" y2="294.95" stroke="#000" stroke-width="2.5"/>
<line x1="1220.7" y1="243.92" x2="1245.7" y2="243.92" stroke="#000" stroke-width="2.5"/>
<line x1="1220.7" y1="294.95" x2="1245.7" y2="294.95" stroke="#000" stroke-width="2.5"/>
<line x1="1309.75" y1="299.54" x2="1309.75" y2="331.69" stroke="#000" stroke-width="2.5"/>
<line x1="1297.25" y1="299.54" x2="1322.25" y2="299.54" stroke="#000" stroke-width="2.5"/>
<line x1="1297.25" y1="331.69" x2="1322.25" y2="331.69" stroke="#000" stroke-width="2.5"/>
<circle cx="1226.06" cy="173.5" r="4.6" fill="#000"/>
<circle cx="1240.35" cy="177.07" r="4.6" fill="#000"/>
<circle cx="1226.06" cy="233.71" r="4.6" fill="#000"/>
<circle cx="1240.35" cy="233.71" r="4.6" fill="#000"/>
<circle cx="1233.2" cy="257.7" r="4.6" fill="#000"/>
<circle cx="1233.2" cy="275.56" r="4.6" fill="#000"/>
<circle cx="1233.2" cy="318.93" r="4.6" fill="#000"/>
<circle cx="1226.06" cy="377.62" r="4.6" fill="#000"/>
<circle cx="1240.35" cy="377.62" r="4.6" fill="#000"/>
<rect x="1305" y="244.27" width="9.5" height="9.5" fill="#000"/>
<rect x="1290.71" y="273.87" width="9.5" height="9.5" fill="#000"/>
<rect x="1318.77" y="273.87" width="9.5" height="9.5" fill="#000"/>
<rect x="1305" y="278.46" width="9.5" height="9.5" fill="#000"/>
<rect x="1305" y="301.42" width="9.5" height="9.5" fill="#000"/>
<rect x="1305" y="329.49" width="9.5" height="9.5" fill="#000"/>
<rect x="1305" y="345.31" width="9.5" height="9.5" fill="#000"/>
<rect x="1312.14" y="375.42" width="9.5" height="9.5" fill="#000"/>
<rect x="1298.87" y="378.99" width="9.5" height="9.5" fill="#000"/>
<text transform="translate(1136.53 264.08) rotate(-90)" font-size="29.07" text-anchor="middle" fill="#1c1c1c">Relative primary tumor mass</text>
<text transform="translate(1239.04 409.7) rotate(-45)" font-size="25.5" text-anchor="end" fill="#1c1c1c">veh-MRC5</text>
<text transform="translate(1315.58 409.7) rotate(-45)" font-size="25.5" text-anchor="end" fill="#1c1c1c">MMA-MRC5</text>
<rect x="1567.95" y="360.78" width="52.05" height="11.74" fill="#808080" stroke="#444" stroke-width="1.7"/>
<rect x="1645.52" y="292.4" width="52.05" height="80.12" fill="#a00000" stroke="#500" stroke-width="1.7"/>
<line x1="1554.69" y1="136.63" x2="1554.69" y2="373.66" stroke="#1c1c1c" stroke-width="2.3"/>
<line x1="1553.54" y1="372.51" x2="1710.83" y2="372.51" stroke="#1c1c1c" stroke-width="2.3"/>
<line x1="1546.69" y1="137.78" x2="1554.69" y2="137.78" stroke="#1c1c1c" stroke-width="2.3"/>
<text x="1546.52" y="147.32" font-size="26.5" text-anchor="end" fill="#1c1c1c">20</text>
<line x1="1546.69" y1="196.97" x2="1554.69" y2="196.97" stroke="#1c1c1c" stroke-width="2.3"/>
<text x="1546.52" y="206.51" font-size="26.5" text-anchor="end" fill="#1c1c1c">15</text>
<line x1="1546.69" y1="255.15" x2="1554.69" y2="255.15" stroke="#1c1c1c" stroke-width="2.3"/>
<text x="1546.52" y="264.69" font-size="26.5" text-anchor="end" fill="#1c1c1c">10</text>
<line x1="1546.69" y1="313.83" x2="1554.69" y2="313.83" stroke="#1c1c1c" stroke-width="2.3"/>
<text x="1546.52" y="323.37" font-size="26.5" text-anchor="end" fill="#1c1c1c">5</text>
<line x1="1546.69" y1="372.51" x2="1554.69" y2="372.51" stroke="#1c1c1c" stroke-width="2.3"/>
<text x="1546.52" y="382.05" font-size="26.5" text-anchor="end" fill="#1c1c1c">0</text>
<line x1="1594.49" y1="372.51" x2="1594.49" y2="381.51" stroke="#1c1c1c" stroke-width="2.3"/>
<line x1="1671.54" y1="372.51" x2="1671.54" y2="381.51" stroke="#1c1c1c" stroke-width="2.3"/>
<line x1="1594.49" y1="356.18" x2="1594.49" y2="365.37" stroke="#000" stroke-width="2.5"/>
<line x1="1581.99" y1="356.18" x2="1606.99" y2="356.18" stroke="#000" stroke-width="2.5"/>
<line x1="1581.99" y1="365.37" x2="1606.99" y2="365.37" stroke="#000" stroke-width="2.5"/>
<line x1="1671.54" y1="270.96" x2="1671.54" y2="313.83" stroke="#000" stroke-width="2.5"/>
<line x1="1659.04" y1="270.96" x2="1684.04" y2="270.96" stroke="#000" stroke-width="2.5"/>
<line x1="1659.04" y1="313.83" x2="1684.04" y2="313.83" stroke="#000" stroke-width="2.5"/>
<circle cx="1593.47" cy="341.38" r="3.8" fill="#000"/>
<circle cx="1603.67" cy="353.63" r="3.8" fill="#000"/>
<circle cx="1579.18" cy="358.73" r="3.8" fill="#000"/>
<circle cx="1572.04" cy="361.29" r="3.8" fill="#000"/>
<circle cx="1586.83" cy="363.33" r="3.8" fill="#000"/>
<circle cx="1608.78" cy="363.33" r="3.8" fill="#000"/>
<circle cx="1596.02" cy="365.37" r="3.8" fill="#000"/>
<circle cx="1589.39" cy="368.43" r="3.8" fill="#000"/>
<circle cx="1602.14" cy="369.96" r="3.8" fill="#000"/>
<circle cx="1594.49" cy="373.02" r="3.8" fill="#000"/>
<rect x="1667.74" y="173.27" width="7.6" height="7.6" fill="#000"/>
<rect x="1667.74" y="213.07" width="7.6" height="7.6" fill="#000"/>
<rect x="1667.74" y="261.55" width="7.6" height="7.6" fill="#000"/>
<rect x="1667.74" y="271.76" width="7.6" height="7.6" fill="#000"/>
<rect x="1667.74" y="302.37" width="7.6" height="7.6" fill="#000"/>
<rect x="1662.13" y="335.54" width="7.6" height="7.6" fill="#000"/>
<rect x="1673.36" y="345.75" width="7.6" height="7.6" fill="#000"/>
<rect x="1667.74" y="364.63" width="7.6" height="7.6" fill="#000"/>
<text transform="translate(1503.01 250.04) rotate(-90)" font-size="29.43" text-anchor="middle" fill="#1c1c1c">Relative metastasis</text>
<text transform="translate(1600.32 397.96) rotate(-45)" font-size="25.5" text-anchor="end" fill="#1c1c1c">veh-MRC5</text>
<text transform="translate(1677.38 397.96) rotate(-45)" font-size="25.5" text-anchor="end" fill="#1c1c1c">MMA-MRC5</text>
<text x="1587.34" y="145.43" font-size="25.3" fill="#333"><tspan font-style="italic">p</tspan>=0.006</text>
<path d="M1588.37 168.91 V158.7 H1674.6 V168.91" stroke="#000" stroke-width="2.3" fill="none"/>
<line x1="147.09" y1="999.66" x2="147.09" y2="1188.91" stroke="#1c1c1c" stroke-width="1.6"/>
<line x1="146.29" y1="1188.11" x2="430.78" y2="1188.11" stroke="#1c1c1c" stroke-width="1.6"/>
<line x1="141.09" y1="1000.46" x2="147.09" y2="1000.46" stroke="#1c1c1c" stroke-width="1.6"/>
<text x="140.44" y="1006.76" font-size="17.5" text-anchor="end" fill="#1c1c1c">1.0</text>
<line x1="141.09" y1="1037.99" x2="147.09" y2="1037.99" stroke="#1c1c1c" stroke-width="1.6"/>
<text x="140.44" y="1044.29" font-size="17.5" text-anchor="end" fill="#1c1c1c">0.8</text>
<line x1="141.09" y1="1075.52" x2="147.09" y2="1075.52" stroke="#1c1c1c" stroke-width="1.6"/>
<text x="140.44" y="1081.82" font-size="17.5" text-anchor="end" fill="#1c1c1c">0.6</text>
<line x1="141.09" y1="1113.05" x2="147.09" y2="1113.05" stroke="#1c1c1c" stroke-width="1.6"/>
<text x="140.44" y="1119.35" font-size="17.5" text-anchor="end" fill="#1c1c1c">0.4</text>
<line x1="141.09" y1="1150.58" x2="147.09" y2="1150.58" stroke="#1c1c1c" stroke-width="1.6"/>
<text x="140.44" y="1156.88" font-size="17.5" text-anchor="end" fill="#1c1c1c">0.2</text>
<line x1="141.09" y1="1188.11" x2="147.09" y2="1188.11" stroke="#1c1c1c" stroke-width="1.6"/>
<text x="140.44" y="1194.41" font-size="17.5" text-anchor="end" fill="#1c1c1c">0.0</text>
<line x1="147.09" y1="1188.11" x2="147.09" y2="1194.11" stroke="#1c1c1c" stroke-width="1.6"/>
<line x1="241.53" y1="1188.11" x2="241.53" y2="1194.11" stroke="#1c1c1c" stroke-width="1.6"/>
<line x1="335.35" y1="1188.11" x2="335.35" y2="1194.11" stroke="#1c1c1c" stroke-width="1.6"/>
<line x1="429.78" y1="1188.11" x2="429.78" y2="1194.11" stroke="#1c1c1c" stroke-width="1.6"/>
<text x="147.09" y="1212.93" font-size="17.5" text-anchor="middle" fill="#1c1c1c">0</text>
<text x="241.53" y="1212.93" font-size="17.5" text-anchor="middle" fill="#1c1c1c">50</text>
<text x="335.35" y="1212.93" font-size="17.5" text-anchor="middle" fill="#1c1c1c">100</text>
<text x="429.78" y="1212.93" font-size="17.5" text-anchor="middle" fill="#1c1c1c">150</text>
<text x="291.77" y="1240.17" font-size="20.2" text-anchor="middle" fill="#1c1c1c">Carboplatin (<tspan font-family="'Liberation Serif',serif">μ</tspan>M)</text>
<text transform="translate(104.45 1091.86) rotate(-90)" font-size="23.84" text-anchor="middle" fill="#1c1c1c">Relative cell biomass</text>
<path d="M147.09 1000.46 L222.76 1014.38 L297.82 1031.33 L335.35 1041.62 L429.78 1077.34" stroke="#a51417" stroke-width="1.7" fill="none"/>
<line x1="222.76" y1="1005.91" x2="222.76" y2="1022.86" stroke="#a51417" stroke-width="2.3"/>
<line x1="218.76" y1="1005.91" x2="226.76" y2="1005.91" stroke="#a51417" stroke-width="2.3"/>
<line x1="218.76" y1="1022.86" x2="226.76" y2="1022.86" stroke="#a51417" stroke-width="2.3"/>
<line x1="297.82" y1="1025.28" x2="297.82" y2="1037.38" stroke="#a51417" stroke-width="2.3"/>
<line x1="293.82" y1="1025.28" x2="301.82" y2="1025.28" stroke="#a51417" stroke-width="2.3"/>
<line x1="293.82" y1="1037.38" x2="301.82" y2="1037.38" stroke="#a51417" stroke-width="2.3"/>
<line x1="335.35" y1="1028.31" x2="335.35" y2="1054.94" stroke="#a51417" stroke-width="2.3"/>
<line x1="331.35" y1="1028.31" x2="339.35" y2="1028.31" stroke="#a51417" stroke-width="2.3"/>
<line x1="331.35" y1="1054.94" x2="339.35" y2="1054.94" stroke="#a51417" stroke-width="2.3"/>
<line x1="429.78" y1="1067.65" x2="429.78" y2="1087.63" stroke="#a51417" stroke-width="2.3"/>
<line x1="425.78" y1="1067.65" x2="433.78" y2="1067.65" stroke="#a51417" stroke-width="2.3"/>
<line x1="425.78" y1="1087.63" x2="433.78" y2="1087.63" stroke="#a51417" stroke-width="2.3"/>
<rect x="143.89" y="997.26" width="6.4" height="6.4" fill="#a51417"/>
<rect x="219.56" y="1011.18" width="6.4" height="6.4" fill="#a51417"/>
<rect x="294.62" y="1028.13" width="6.4" height="6.4" fill="#a51417"/>
<rect x="332.15" y="1038.42" width="6.4" height="6.4" fill="#a51417"/>
<rect x="426.58" y="1074.14" width="6.4" height="6.4" fill="#a51417"/>
<path d="M147.09 1000.46 L222.76 1031.33 L297.82 1073.7 L335.35 1096.1 L429.78 1133.03" stroke="#111" stroke-width="1.7" fill="none"/>
<line x1="222.76" y1="1022.86" x2="222.76" y2="1039.81" stroke="#111" stroke-width="2.3"/>
<line x1="218.76" y1="1022.86" x2="226.76" y2="1022.86" stroke="#111" stroke-width="2.3"/>
<line x1="218.76" y1="1039.81" x2="226.76" y2="1039.81" stroke="#111" stroke-width="2.3"/>
<line x1="297.82" y1="1061.6" x2="297.82" y2="1084" stroke="#111" stroke-width="2.3"/>
<line x1="293.82" y1="1061.6" x2="301.82" y2="1061.6" stroke="#111" stroke-width="2.3"/>
<line x1="293.82" y1="1084" x2="301.82" y2="1084" stroke="#111" stroke-width="2.3"/>
<line x1="335.35" y1="1084.6" x2="335.35" y2="1107.6" stroke="#111" stroke-width="2.3"/>
<line x1="331.35" y1="1084.6" x2="339.35" y2="1084.6" stroke="#111" stroke-width="2.3"/>
<line x1="331.35" y1="1107.6" x2="339.35" y2="1107.6" stroke="#111" stroke-width="2.3"/>
<line x1="429.78" y1="1123.34" x2="429.78" y2="1142.71" stroke="#111" stroke-width="2.3"/>
<line x1="425.78" y1="1123.34" x2="433.78" y2="1123.34" stroke="#111" stroke-width="2.3"/>
<line x1="425.78" y1="1142.71" x2="433.78" y2="1142.71" stroke="#111" stroke-width="2.3"/>
<circle cx="147.09" cy="1000.46" r="3.7" fill="#111"/>
<circle cx="222.76" cy="1031.33" r="3.7" fill="#111"/>
<circle cx="297.82" cy="1073.7" r="3.7" fill="#111"/>
<circle cx="335.35" cy="1096.1" r="3.7" fill="#111"/>
<circle cx="429.78" cy="1133.03" r="3.7" fill="#111"/>
<line x1="234.87" y1="971.4" x2="255.45" y2="971.4" stroke="#111" stroke-width="1.7"/>
<circle cx="245.16" cy="971.4" r="3.7" fill="#111"/>
<line x1="234.87" y1="999.25" x2="255.45" y2="999.25" stroke="#a51417" stroke-width="1.7"/>
<rect x="241.96" y="996.05" width="6.4" height="6.4" fill="#a51417"/>
<text x="266.34" y="979.88" font-size="20.5" fill="#1c1c1c">EVs<tspan dy="-9.02" font-size="15.17">veh-MRC5</tspan></text>
<text x="266.34" y="1007.12" font-size="20.5" fill="#1c1c1c">EVs<tspan dy="-9.02" font-size="15.17">MMA-MRC5</tspan></text>
<path d="M392.25 964.14 H400.73 V993.2 H392.25" stroke="#111" stroke-width="1.7" fill="none"/>
<text x="406.17" y="981.09" font-size="18.5" fill="#333"><tspan font-style="italic">p</tspan>=0.0019</text>
<line x1="600.48" y1="980.89" x2="600.48" y2="1182.86" stroke="#1c1c1c" stroke-width="1.6"/>
<line x1="599.68" y1="1182.06" x2="902.94" y2="1182.06" stroke="#1c1c1c" stroke-width="1.6"/>
<line x1="594.48" y1="981.69" x2="600.48" y2="981.69" stroke="#1c1c1c" stroke-width="1.6"/>
<text x="594.43" y="988.28" font-size="18.3" text-anchor="end" fill="#1c1c1c">1.0</text>
<line x1="594.48" y1="1021.65" x2="600.48" y2="1021.65" stroke="#1c1c1c" stroke-width="1.6"/>
<text x="594.43" y="1028.23" font-size="18.3" text-anchor="end" fill="#1c1c1c">0.8</text>
<line x1="594.48" y1="1061.6" x2="600.48" y2="1061.6" stroke="#1c1c1c" stroke-width="1.6"/>
<text x="594.43" y="1068.19" font-size="18.3" text-anchor="end" fill="#1c1c1c">0.6</text>
<line x1="594.48" y1="1101.55" x2="600.48" y2="1101.55" stroke="#1c1c1c" stroke-width="1.6"/>
<text x="594.43" y="1108.14" font-size="18.3" text-anchor="end" fill="#1c1c1c">0.4</text>
<line x1="594.48" y1="1141.5" x2="600.48" y2="1141.5" stroke="#1c1c1c" stroke-width="1.6"/>
<text x="594.43" y="1148.09" font-size="18.3" text-anchor="end" fill="#1c1c1c">0.2</text>
<line x1="594.48" y1="1182.06" x2="600.48" y2="1182.06" stroke="#1c1c1c" stroke-width="1.6"/>
<text x="594.43" y="1188.65" font-size="18.3" text-anchor="end" fill="#1c1c1c">0.0</text>
<line x1="600.48" y1="1182.06" x2="600.48" y2="1188.06" stroke="#1c1c1c" stroke-width="1.6"/>
<line x1="676.15" y1="1182.06" x2="676.15" y2="1188.06" stroke="#1c1c1c" stroke-width="1.6"/>
<line x1="751.21" y1="1182.06" x2="751.21" y2="1188.06" stroke="#1c1c1c" stroke-width="1.6"/>
<line x1="826.88" y1="1182.06" x2="826.88" y2="1188.06" stroke="#1c1c1c" stroke-width="1.6"/>
<line x1="901.94" y1="1182.06" x2="901.94" y2="1188.06" stroke="#1c1c1c" stroke-width="1.6"/>
<text x="600.48" y="1206.88" font-size="18.3" text-anchor="middle" fill="#1c1c1c">0</text>
<text x="676.15" y="1206.88" font-size="18.3" text-anchor="middle" fill="#1c1c1c">5</text>
<text x="751.21" y="1206.88" font-size="18.3" text-anchor="middle" fill="#1c1c1c">10</text>
<text x="826.88" y="1206.88" font-size="18.3" text-anchor="middle" fill="#1c1c1c">15</text>
<text x="901.94" y="1206.88" font-size="18.3" text-anchor="middle" fill="#1c1c1c">20</text>
<text x="751.21" y="1231.09" font-size="21.2" text-anchor="middle" fill="#1c1c1c">Paclitaxel (nM)</text>
<text transform="translate(560.63 1079.15) rotate(-90)" font-size="25.26" text-anchor="middle" fill="#1c1c1c">Relative cell biomass</text>
<path d="M600.48 981.69 L616.22 989.56 L638.62 1007.72 L676.15 1031.33 L751.21 1064.02 L901.94 1089.44" stroke="#a51417" stroke-width="1.7" fill="none"/>
<line x1="676.15" y1="1019.23" x2="676.15" y2="1043.44" stroke="#a51417" stroke-width="2.3"/>
<line x1="672.15" y1="1019.23" x2="680.15" y2="1019.23" stroke="#a51417" stroke-width="2.3"/>
<line x1="672.15" y1="1043.44" x2="680.15" y2="1043.44" stroke="#a51417" stroke-width="2.3"/>
<line x1="751.21" y1="1047.68" x2="751.21" y2="1080.36" stroke="#a51417" stroke-width="2.3"/>
<line x1="747.21" y1="1047.68" x2="755.21" y2="1047.68" stroke="#a51417" stroke-width="2.3"/>
<line x1="747.21" y1="1080.36" x2="755.21" y2="1080.36" stroke="#a51417" stroke-width="2.3"/>
<line x1="901.94" y1="1076.73" x2="901.94" y2="1102.15" stroke="#a51417" stroke-width="2.3"/>
<line x1="897.94" y1="1076.73" x2="905.94" y2="1076.73" stroke="#a51417" stroke-width="2.3"/>
<line x1="897.94" y1="1102.15" x2="905.94" y2="1102.15" stroke="#a51417" stroke-width="2.3"/>
<rect x="596.48" y="977.69" width="8" height="8" fill="#a51417"/>
<rect x="612.22" y="985.56" width="8" height="8" fill="#a51417"/>
<rect x="634.62" y="1003.72" width="8" height="8" fill="#a51417"/>
<rect x="672.15" y="1027.33" width="8" height="8" fill="#a51417"/>
<rect x="747.21" y="1060.02" width="8" height="8" fill="#a51417"/>
<rect x="897.94" y="1085.44" width="8" height="8" fill="#a51417"/>
<path d="M600.48 981.69 L616.22 993.8 L638.62 1027.09 L676.15 1056.76 L751.21 1108.21 L901.94 1134.24" stroke="#111" stroke-width="1.7" fill="none"/>
<line x1="638.62" y1="1016.8" x2="638.62" y2="1037.38" stroke="#111" stroke-width="2.3"/>
<line x1="634.62" y1="1016.8" x2="642.62" y2="1016.8" stroke="#111" stroke-width="2.3"/>
<line x1="634.62" y1="1037.38" x2="642.62" y2="1037.38" stroke="#111" stroke-width="2.3"/>
<line x1="676.15" y1="1047.68" x2="676.15" y2="1065.84" stroke="#111" stroke-width="2.3"/>
<line x1="672.15" y1="1047.68" x2="680.15" y2="1047.68" stroke="#111" stroke-width="2.3"/>
<line x1="672.15" y1="1065.84" x2="680.15" y2="1065.84" stroke="#111" stroke-width="2.3"/>
<line x1="751.21" y1="1097.92" x2="751.21" y2="1118.5" stroke="#111" stroke-width="2.3"/>
<line x1="747.21" y1="1097.92" x2="755.21" y2="1097.92" stroke="#111" stroke-width="2.3"/>
<line x1="747.21" y1="1118.5" x2="755.21" y2="1118.5" stroke="#111" stroke-width="2.3"/>
<line x1="901.94" y1="1125.16" x2="901.94" y2="1143.32" stroke="#111" stroke-width="2.3"/>
<line x1="897.94" y1="1125.16" x2="905.94" y2="1125.16" stroke="#111" stroke-width="2.3"/>
<line x1="897.94" y1="1143.32" x2="905.94" y2="1143.32" stroke="#111" stroke-width="2.3"/>
<circle cx="600.48" cy="981.69" r="4" fill="#111"/>
<circle cx="616.22" cy="993.8" r="4" fill="#111"/>
<circle cx="638.62" cy="1027.09" r="4" fill="#111"/>
<circle cx="676.15" cy="1056.76" r="4" fill="#111"/>
<circle cx="751.21" cy="1108.21" r="4" fill="#111"/>
<circle cx="901.94" cy="1134.24" r="4" fill="#111"/>
<line x1="687.05" y1="962.93" x2="708.23" y2="962.93" stroke="#111" stroke-width="1.7"/>
<circle cx="697.64" cy="962.93" r="4" fill="#111"/>
<line x1="687.05" y1="991.99" x2="708.23" y2="991.99" stroke="#a51417" stroke-width="1.7"/>
<rect x="693.64" y="987.99" width="8" height="8" fill="#a51417"/>
<text x="720.34" y="972.62" font-size="21.5" fill="#1c1c1c">EVs<tspan dy="-9.46" font-size="15.91">veh-MRC5</tspan></text>
<text x="720.34" y="999.85" font-size="21.5" fill="#1c1c1c">EVs<tspan dy="-9.46" font-size="15.91">MMA-MRC5</tspan></text>
<path d="M850.48 957.48 H858.96 V988.96 H850.48" stroke="#111" stroke-width="1.7" fill="none"/>
<text x="865.62" y="976.85" font-size="19" fill="#333"><tspan font-style="italic">p</tspan>=0.004</text>
<line x1="144.67" y1="1340.29" x2="144.67" y2="1541.04" stroke="#1c1c1c" stroke-width="1.6"/>
<line x1="143.87" y1="1540.24" x2="444.1" y2="1540.24" stroke="#1c1c1c" stroke-width="1.6"/>
<line x1="138.67" y1="1341.09" x2="144.67" y2="1341.09" stroke="#1c1c1c" stroke-width="1.6"/>
<text x="138.01" y="1347.68" font-size="18.3" text-anchor="end" fill="#1c1c1c">1.0</text>
<line x1="138.67" y1="1381.04" x2="144.67" y2="1381.04" stroke="#1c1c1c" stroke-width="1.6"/>
<text x="138.01" y="1387.63" font-size="18.3" text-anchor="end" fill="#1c1c1c">0.8</text>
<line x1="138.67" y1="1420.99" x2="144.67" y2="1420.99" stroke="#1c1c1c" stroke-width="1.6"/>
<text x="138.01" y="1427.58" font-size="18.3" text-anchor="end" fill="#1c1c1c">0.6</text>
<line x1="138.67" y1="1460.34" x2="144.67" y2="1460.34" stroke="#1c1c1c" stroke-width="1.6"/>
<text x="138.01" y="1466.93" font-size="18.3" text-anchor="end" fill="#1c1c1c">0.4</text>
<line x1="138.67" y1="1500.29" x2="144.67" y2="1500.29" stroke="#1c1c1c" stroke-width="1.6"/>
<text x="138.01" y="1506.88" font-size="18.3" text-anchor="end" fill="#1c1c1c">0.2</text>
<line x1="138.67" y1="1540.24" x2="144.67" y2="1540.24" stroke="#1c1c1c" stroke-width="1.6"/>
<text x="138.01" y="1546.83" font-size="18.3" text-anchor="end" fill="#1c1c1c">0.0</text>
<line x1="144.67" y1="1540.24" x2="144.67" y2="1546.24" stroke="#1c1c1c" stroke-width="1.6"/>
<line x1="219.13" y1="1540.24" x2="219.13" y2="1546.24" stroke="#1c1c1c" stroke-width="1.6"/>
<line x1="293.58" y1="1540.24" x2="293.58" y2="1546.24" stroke="#1c1c1c" stroke-width="1.6"/>
<line x1="368.64" y1="1540.24" x2="368.64" y2="1546.24" stroke="#1c1c1c" stroke-width="1.6"/>
<line x1="443.1" y1="1540.24" x2="443.1" y2="1546.24" stroke="#1c1c1c" stroke-width="1.6"/>
<text x="144.67" y="1565.67" font-size="18.3" text-anchor="middle" fill="#1c1c1c">0</text>
<text x="219.13" y="1565.67" font-size="18.3" text-anchor="middle" fill="#1c1c1c">50</text>
<text x="293.58" y="1565.67" font-size="18.3" text-anchor="middle" fill="#1c1c1c">100</text>
<text x="368.64" y="1565.67" font-size="18.3" text-anchor="middle" fill="#1c1c1c">150</text>
<text x="443.1" y="1565.67" font-size="18.3" text-anchor="middle" fill="#1c1c1c">200</text>
<text x="293.58" y="1592.3" font-size="21.4" text-anchor="middle" fill="#1c1c1c">AZD6244 (nM)</text>
<text transform="translate(101.79 1437.34) rotate(-90)" font-size="25.26" text-anchor="middle" fill="#1c1c1c">Relative cell biomass</text>
<path d="M144.67 1341.09 L151.94 1348.96 L159.81 1362.28 L182.2 1385.28 L219.13 1410.7 L293.58 1441.57 L443.1 1473.05" stroke="#a51417" stroke-width="1.7" fill="none"/>
<line x1="159.81" y1="1353.8" x2="159.81" y2="1371.96" stroke="#a51417" stroke-width="2.3"/>
<line x1="155.81" y1="1353.8" x2="163.81" y2="1353.8" stroke="#a51417" stroke-width="2.3"/>
<line x1="155.81" y1="1371.96" x2="163.81" y2="1371.96" stroke="#a51417" stroke-width="2.3"/>
<line x1="182.2" y1="1376.2" x2="182.2" y2="1394.36" stroke="#a51417" stroke-width="2.3"/>
<line x1="178.2" y1="1376.2" x2="186.2" y2="1376.2" stroke="#a51417" stroke-width="2.3"/>
<line x1="178.2" y1="1394.36" x2="186.2" y2="1394.36" stroke="#a51417" stroke-width="2.3"/>
<line x1="219.13" y1="1401.02" x2="219.13" y2="1420.39" stroke="#a51417" stroke-width="2.3"/>
<line x1="215.13" y1="1401.02" x2="223.13" y2="1401.02" stroke="#a51417" stroke-width="2.3"/>
<line x1="215.13" y1="1420.39" x2="223.13" y2="1420.39" stroke="#a51417" stroke-width="2.3"/>
<line x1="293.58" y1="1433.7" x2="293.58" y2="1450.05" stroke="#a51417" stroke-width="2.3"/>
<line x1="289.58" y1="1433.7" x2="297.58" y2="1433.7" stroke="#a51417" stroke-width="2.3"/>
<line x1="289.58" y1="1450.05" x2="297.58" y2="1450.05" stroke="#a51417" stroke-width="2.3"/>
<line x1="443.1" y1="1463.97" x2="443.1" y2="1482.13" stroke="#a51417" stroke-width="2.3"/>
<line x1="439.1" y1="1463.97" x2="447.1" y2="1463.97" stroke="#a51417" stroke-width="2.3"/>
<line x1="439.1" y1="1482.13" x2="447.1" y2="1482.13" stroke="#a51417" stroke-width="2.3"/>
<rect x="141.47" y="1337.89" width="6.4" height="6.4" fill="#a51417"/>
<rect x="148.74" y="1345.76" width="6.4" height="6.4" fill="#a51417"/>
<rect x="156.61" y="1359.08" width="6.4" height="6.4" fill="#a51417"/>
<rect x="179" y="1382.08" width="6.4" height="6.4" fill="#a51417"/>
<rect x="215.93" y="1407.5" width="6.4" height="6.4" fill="#a51417"/>
<rect x="290.38" y="1438.37" width="6.4" height="6.4" fill="#a51417"/>
<rect x="439.9" y="1469.85" width="6.4" height="6.4" fill="#a51417"/>
<path d="M144.67 1341.09 L151.94 1350.77 L159.81 1381.04 L182.2 1410.1 L219.13 1441.57 L293.58 1476.68 L443.1 1505.13" stroke="#111" stroke-width="1.7" fill="none"/>
<line x1="159.81" y1="1373.17" x2="159.81" y2="1388.31" stroke="#111" stroke-width="2.3"/>
<line x1="155.81" y1="1373.17" x2="163.81" y2="1373.17" stroke="#111" stroke-width="2.3"/>
<line x1="155.81" y1="1388.31" x2="163.81" y2="1388.31" stroke="#111" stroke-width="2.3"/>
<line x1="182.2" y1="1401.02" x2="182.2" y2="1419.18" stroke="#111" stroke-width="2.3"/>
<line x1="178.2" y1="1401.02" x2="186.2" y2="1401.02" stroke="#111" stroke-width="2.3"/>
<line x1="178.2" y1="1419.18" x2="186.2" y2="1419.18" stroke="#111" stroke-width="2.3"/>
<line x1="219.13" y1="1428.86" x2="219.13" y2="1454.89" stroke="#111" stroke-width="2.3"/>
<line x1="215.13" y1="1428.86" x2="223.13" y2="1428.86" stroke="#111" stroke-width="2.3"/>
<line x1="215.13" y1="1454.89" x2="223.13" y2="1454.89" stroke="#111" stroke-width="2.3"/>
<line x1="293.58" y1="1465.18" x2="293.58" y2="1488.79" stroke="#111" stroke-width="2.3"/>
<line x1="289.58" y1="1465.18" x2="297.58" y2="1465.18" stroke="#111" stroke-width="2.3"/>
<line x1="289.58" y1="1488.79" x2="297.58" y2="1488.79" stroke="#111" stroke-width="2.3"/>
<line x1="443.1" y1="1497.26" x2="443.1" y2="1513" stroke="#111" stroke-width="2.3"/>
<line x1="439.1" y1="1497.26" x2="447.1" y2="1497.26" stroke="#111" stroke-width="2.3"/>
<line x1="439.1" y1="1513" x2="447.1" y2="1513" stroke="#111" stroke-width="2.3"/>
<circle cx="144.67" cy="1341.09" r="4.1" fill="#111"/>
<circle cx="151.94" cy="1350.77" r="4.1" fill="#111"/>
<circle cx="159.81" cy="1381.04" r="4.1" fill="#111"/>
<circle cx="182.2" cy="1410.1" r="4.1" fill="#111"/>
<circle cx="219.13" cy="1441.57" r="4.1" fill="#111"/>
<circle cx="293.58" cy="1476.68" r="4.1" fill="#111"/>
<circle cx="443.1" cy="1505.13" r="4.1" fill="#111"/>
<line x1="242.13" y1="1333.83" x2="261.5" y2="1333.83" stroke="#111" stroke-width="1.7"/>
<circle cx="251.82" cy="1333.83" r="4.1" fill="#111"/>
<line x1="242.13" y1="1359.85" x2="261.5" y2="1359.85" stroke="#a51417" stroke-width="1.7"/>
<rect x="248.62" y="1356.65" width="6.4" height="6.4" fill="#a51417"/>
<text x="274.21" y="1342.91" font-size="21.5" fill="#1c1c1c">EVs<tspan dy="-9.46" font-size="15.91">veh-BJ</tspan></text>
<text x="274.21" y="1368.93" font-size="21.5" fill="#1c1c1c">EVs<tspan dy="-9.46" font-size="15.91">MMA-BJ</tspan></text>
<path d="M380.15 1326.56 H388.01 V1356.83 H380.15" stroke="#111" stroke-width="1.7" fill="none"/>
<text x="393.46" y="1341.09" font-size="19.3" fill="#333"><tspan font-style="italic">p</tspan>=0.0069</text>
<line x1="595.04" y1="1341.5" x2="595.04" y2="1540.44" stroke="#1c1c1c" stroke-width="1.6"/>
<line x1="594.24" y1="1539.64" x2="890.83" y2="1539.64" stroke="#1c1c1c" stroke-width="1.6"/>
<line x1="589.04" y1="1342.3" x2="595.04" y2="1342.3" stroke="#1c1c1c" stroke-width="1.6"/>
<text x="588.38" y="1348.89" font-size="18.3" text-anchor="end" fill="#1c1c1c">1.0</text>
<line x1="589.04" y1="1381.65" x2="595.04" y2="1381.65" stroke="#1c1c1c" stroke-width="1.6"/>
<text x="588.38" y="1388.23" font-size="18.3" text-anchor="end" fill="#1c1c1c">0.8</text>
<line x1="589.04" y1="1420.99" x2="595.04" y2="1420.99" stroke="#1c1c1c" stroke-width="1.6"/>
<text x="588.38" y="1427.58" font-size="18.3" text-anchor="end" fill="#1c1c1c">0.6</text>
<line x1="589.04" y1="1460.34" x2="595.04" y2="1460.34" stroke="#1c1c1c" stroke-width="1.6"/>
<text x="588.38" y="1466.93" font-size="18.3" text-anchor="end" fill="#1c1c1c">0.4</text>
<line x1="589.04" y1="1500.29" x2="595.04" y2="1500.29" stroke="#1c1c1c" stroke-width="1.6"/>
<text x="588.38" y="1506.88" font-size="18.3" text-anchor="end" fill="#1c1c1c">0.2</text>
<line x1="589.04" y1="1539.64" x2="595.04" y2="1539.64" stroke="#1c1c1c" stroke-width="1.6"/>
<text x="588.38" y="1546.22" font-size="18.3" text-anchor="end" fill="#1c1c1c">0.0</text>
<line x1="595.04" y1="1539.64" x2="595.04" y2="1545.64" stroke="#1c1c1c" stroke-width="1.6"/>
<line x1="668.89" y1="1539.64" x2="668.89" y2="1545.64" stroke="#1c1c1c" stroke-width="1.6"/>
<line x1="742.74" y1="1539.64" x2="742.74" y2="1545.64" stroke="#1c1c1c" stroke-width="1.6"/>
<line x1="816.59" y1="1539.64" x2="816.59" y2="1545.64" stroke="#1c1c1c" stroke-width="1.6"/>
<line x1="889.83" y1="1539.64" x2="889.83" y2="1545.64" stroke="#1c1c1c" stroke-width="1.6"/>
<text x="595.04" y="1565.67" font-size="18.3" text-anchor="middle" fill="#1c1c1c">0</text>
<text x="668.89" y="1565.67" font-size="18.3" text-anchor="middle" fill="#1c1c1c">200</text>
<text x="742.74" y="1565.67" font-size="18.3" text-anchor="middle" fill="#1c1c1c">400</text>
<text x="816.59" y="1565.67" font-size="18.3" text-anchor="middle" fill="#1c1c1c">600</text>
<text x="889.83" y="1565.67" font-size="18.3" text-anchor="middle" fill="#1c1c1c">800</text>
<text x="757.87" y="1591.69" font-size="21.4" text-anchor="middle" fill="#1c1c1c">Vemurafenib (nM)</text>
<text transform="translate(548.44 1437.64) rotate(-90)" font-size="24.94" text-anchor="middle" fill="#1c1c1c">Relative cell biomass</text>
<path d="M595.04 1342.3 L613.2 1345.33 L631.96 1349.56 L668.89 1357.43 L742.74 1387.7 L816.59 1418.57 L889.83 1448.23" stroke="#a51417" stroke-width="1.7" fill="none"/>
<line x1="668.89" y1="1348.96" x2="668.89" y2="1365.91" stroke="#a51417" stroke-width="2.3"/>
<line x1="664.89" y1="1348.96" x2="672.89" y2="1348.96" stroke="#a51417" stroke-width="2.3"/>
<line x1="664.89" y1="1365.91" x2="672.89" y2="1365.91" stroke="#a51417" stroke-width="2.3"/>
<line x1="742.74" y1="1376.8" x2="742.74" y2="1398.6" stroke="#a51417" stroke-width="2.3"/>
<line x1="738.74" y1="1376.8" x2="746.74" y2="1376.8" stroke="#a51417" stroke-width="2.3"/>
<line x1="738.74" y1="1398.6" x2="746.74" y2="1398.6" stroke="#a51417" stroke-width="2.3"/>
<line x1="816.59" y1="1410.1" x2="816.59" y2="1427.05" stroke="#a51417" stroke-width="2.3"/>
<line x1="812.59" y1="1410.1" x2="820.59" y2="1410.1" stroke="#a51417" stroke-width="2.3"/>
<line x1="812.59" y1="1427.05" x2="820.59" y2="1427.05" stroke="#a51417" stroke-width="2.3"/>
<line x1="889.83" y1="1433.7" x2="889.83" y2="1462.76" stroke="#a51417" stroke-width="2.3"/>
<line x1="885.83" y1="1433.7" x2="893.83" y2="1433.7" stroke="#a51417" stroke-width="2.3"/>
<line x1="885.83" y1="1462.76" x2="893.83" y2="1462.76" stroke="#a51417" stroke-width="2.3"/>
<rect x="591.29" y="1338.55" width="7.5" height="7.5" fill="#a51417"/>
<rect x="609.45" y="1341.58" width="7.5" height="7.5" fill="#a51417"/>
<rect x="628.21" y="1345.81" width="7.5" height="7.5" fill="#a51417"/>
<rect x="665.14" y="1353.68" width="7.5" height="7.5" fill="#a51417"/>
<rect x="738.99" y="1383.95" width="7.5" height="7.5" fill="#a51417"/>
<rect x="812.84" y="1414.82" width="7.5" height="7.5" fill="#a51417"/>
<rect x="886.08" y="1444.48" width="7.5" height="7.5" fill="#a51417"/>
<path d="M595.04 1342.3 L613.2 1348.35 L631.96 1354.41 L668.89 1375.59 L742.74 1422.81 L816.59 1461.55 L889.83 1487.58" stroke="#111" stroke-width="1.7" fill="none"/>
<line x1="668.89" y1="1365.3" x2="668.89" y2="1385.28" stroke="#111" stroke-width="2.3"/>
<line x1="664.89" y1="1365.3" x2="672.89" y2="1365.3" stroke="#111" stroke-width="2.3"/>
<line x1="664.89" y1="1385.28" x2="672.89" y2="1385.28" stroke="#111" stroke-width="2.3"/>
<line x1="742.74" y1="1408.28" x2="742.74" y2="1437.34" stroke="#111" stroke-width="2.3"/>
<line x1="738.74" y1="1408.28" x2="746.74" y2="1408.28" stroke="#111" stroke-width="2.3"/>
<line x1="738.74" y1="1437.34" x2="746.74" y2="1437.34" stroke="#111" stroke-width="2.3"/>
<line x1="816.59" y1="1450.65" x2="816.59" y2="1470.63" stroke="#111" stroke-width="2.3"/>
<line x1="812.59" y1="1450.65" x2="820.59" y2="1450.65" stroke="#111" stroke-width="2.3"/>
<line x1="812.59" y1="1470.63" x2="820.59" y2="1470.63" stroke="#111" stroke-width="2.3"/>
<line x1="889.83" y1="1477.89" x2="889.83" y2="1496.66" stroke="#111" stroke-width="2.3"/>
<line x1="885.83" y1="1477.89" x2="893.83" y2="1477.89" stroke="#111" stroke-width="2.3"/>
<line x1="885.83" y1="1496.66" x2="893.83" y2="1496.66" stroke="#111" stroke-width="2.3"/>
<circle cx="595.04" cy="1342.3" r="4.1" fill="#111"/>
<circle cx="613.2" cy="1348.35" r="4.1" fill="#111"/>
<circle cx="631.96" cy="1354.41" r="4.1" fill="#111"/>
<circle cx="668.89" cy="1375.59" r="4.1" fill="#111"/>
<circle cx="742.74" cy="1422.81" r="4.1" fill="#111"/>
<circle cx="816.59" cy="1461.55" r="4.1" fill="#111"/>
<circle cx="889.83" cy="1487.58" r="4.1" fill="#111"/>
<line x1="696.13" y1="1324.14" x2="716.1" y2="1324.14" stroke="#111" stroke-width="1.7"/>
<circle cx="706.11" cy="1324.14" r="4.1" fill="#111"/>
<line x1="696.13" y1="1349.56" x2="716.1" y2="1349.56" stroke="#a51417" stroke-width="1.7"/>
<rect x="702.36" y="1345.81" width="7.5" height="7.5" fill="#a51417"/>
<text x="728.21" y="1333.83" font-size="21.5" fill="#1c1c1c">EVs<tspan dy="-9.46" font-size="15.91">veh-BJ</tspan></text>
<text x="728.21" y="1358.64" font-size="21.5" fill="#1c1c1c">EVs<tspan dy="-9.46" font-size="15.91">MMA-BJ</tspan></text>
<path d="M834.14 1316.88 H842.62 V1347.14 H834.14" stroke="#111" stroke-width="1.7" fill="none"/>
<text x="849.27" y="1332.62" font-size="19.3" fill="#333"><tspan font-style="italic">p</tspan>=0.0007</text>
<rect x="1212.79" y="1373.01" width="47.97" height="86.24" fill="#666666" stroke="#000" stroke-width="1.7"/>
<rect x="1284.23" y="1312.79" width="47.97" height="146.45" fill="#a00000" stroke="#000" stroke-width="1.7"/>
<line x1="1200.54" y1="1243.26" x2="1200.54" y2="1460.39" stroke="#1c1c1c" stroke-width="2.3"/>
<line x1="1199.39" y1="1459.24" x2="1344.45" y2="1459.24" stroke="#1c1c1c" stroke-width="2.3"/>
<line x1="1192.54" y1="1244.41" x2="1200.54" y2="1244.41" stroke="#1c1c1c" stroke-width="2.3"/>
<text x="1192.38" y="1252.98" font-size="23.8" text-anchor="end" fill="#1c1c1c">2.5</text>
<line x1="1192.54" y1="1287.28" x2="1200.54" y2="1287.28" stroke="#1c1c1c" stroke-width="2.3"/>
<text x="1192.38" y="1295.84" font-size="23.8" text-anchor="end" fill="#1c1c1c">2.0</text>
<line x1="1192.54" y1="1330.14" x2="1200.54" y2="1330.14" stroke="#1c1c1c" stroke-width="2.3"/>
<text x="1192.38" y="1338.71" font-size="23.8" text-anchor="end" fill="#1c1c1c">1.5</text>
<line x1="1192.54" y1="1373.01" x2="1200.54" y2="1373.01" stroke="#1c1c1c" stroke-width="2.3"/>
<text x="1192.38" y="1381.57" font-size="23.8" text-anchor="end" fill="#1c1c1c">1.0</text>
<line x1="1192.54" y1="1416.38" x2="1200.54" y2="1416.38" stroke="#1c1c1c" stroke-width="2.3"/>
<text x="1192.38" y="1424.95" font-size="23.8" text-anchor="end" fill="#1c1c1c">0.5</text>
<line x1="1192.54" y1="1459.24" x2="1200.54" y2="1459.24" stroke="#1c1c1c" stroke-width="2.3"/>
<text x="1192.38" y="1467.81" font-size="23.8" text-anchor="end" fill="#1c1c1c">0.0</text>
<line x1="1236.77" y1="1459.24" x2="1236.77" y2="1468.24" stroke="#1c1c1c" stroke-width="2.3"/>
<line x1="1308.22" y1="1459.24" x2="1308.22" y2="1468.24" stroke="#1c1c1c" stroke-width="2.3"/>
<line x1="1236.77" y1="1359.23" x2="1236.77" y2="1387.29" stroke="#000" stroke-width="2.5"/>
<line x1="1224.77" y1="1359.23" x2="1248.77" y2="1359.23" stroke="#000" stroke-width="2.5"/>
<line x1="1224.77" y1="1387.29" x2="1248.77" y2="1387.29" stroke="#000" stroke-width="2.5"/>
<line x1="1308.22" y1="1282.17" x2="1308.22" y2="1344.43" stroke="#000" stroke-width="2.5"/>
<line x1="1296.22" y1="1282.17" x2="1320.22" y2="1282.17" stroke="#000" stroke-width="2.5"/>
<line x1="1296.22" y1="1344.43" x2="1320.22" y2="1344.43" stroke="#000" stroke-width="2.5"/>
<circle cx="1229.63" cy="1358.21" r="4.8" fill="#000"/>
<circle cx="1250.04" cy="1366.88" r="4.8" fill="#000"/>
<circle cx="1243.41" cy="1379.13" r="4.8" fill="#000"/>
<circle cx="1230.14" cy="1389.85" r="4.8" fill="#000"/>
<rect x="1303.72" y="1274.1" width="9" height="9" fill="#000"/>
<rect x="1303.72" y="1293.49" width="9" height="9" fill="#000"/>
<rect x="1303.72" y="1325.13" width="9" height="9" fill="#000"/>
<rect x="1303.72" y="1342.48" width="9" height="9" fill="#000"/>
<text transform="translate(1147.21 1346.98) rotate(-90)" font-size="26.95" text-anchor="middle" fill="#1c1c1c">Relative colony number</text>
<text x="1228.61" y="1244.41" font-size="21" fill="#333"><tspan font-style="italic">p</tspan>=0.0105</text>
<path d="M1231.67 1268.4 V1259.21 H1308.22 V1268.4" stroke="#000" stroke-width="2.3" fill="none"/>
<text transform="translate(1242.38 1483.24) rotate(-45)" font-size="23.8" text-anchor="end" fill="#1c1c1c">EVs<tspan dy="-10.23" font-size="17.14">veh-MRC5</tspan></text>
<text transform="translate(1313.82 1483.24) rotate(-45)" font-size="23.8" text-anchor="end" fill="#1c1c1c">EVs<tspan dy="-10.23" font-size="17.14">MMA-MRC5</tspan></text>
<rect x="1531.72" y="1344.43" width="47.97" height="107.16" fill="#666666" stroke="#000" stroke-width="1.7"/>
<rect x="1603.16" y="1291.87" width="47.97" height="159.72" fill="#a00000" stroke="#000" stroke-width="1.7"/>
<line x1="1519.48" y1="1235.61" x2="1519.48" y2="1452.74" stroke="#1c1c1c" stroke-width="2.3"/>
<line x1="1518.33" y1="1451.59" x2="1663.38" y2="1451.59" stroke="#1c1c1c" stroke-width="2.3"/>
<line x1="1511.48" y1="1236.76" x2="1519.48" y2="1236.76" stroke="#1c1c1c" stroke-width="2.3"/>
<text x="1511.31" y="1245.33" font-size="23.8" text-anchor="end" fill="#1c1c1c">2.0</text>
<line x1="1511.48" y1="1290.85" x2="1519.48" y2="1290.85" stroke="#1c1c1c" stroke-width="2.3"/>
<text x="1511.31" y="1299.42" font-size="23.8" text-anchor="end" fill="#1c1c1c">1.5</text>
<line x1="1511.48" y1="1344.43" x2="1519.48" y2="1344.43" stroke="#1c1c1c" stroke-width="2.3"/>
<text x="1511.31" y="1353" font-size="23.8" text-anchor="end" fill="#1c1c1c">1.0</text>
<line x1="1511.48" y1="1398.01" x2="1519.48" y2="1398.01" stroke="#1c1c1c" stroke-width="2.3"/>
<text x="1511.31" y="1406.58" font-size="23.8" text-anchor="end" fill="#1c1c1c">0.5</text>
<line x1="1511.48" y1="1451.59" x2="1519.48" y2="1451.59" stroke="#1c1c1c" stroke-width="2.3"/>
<text x="1511.31" y="1460.16" font-size="23.8" text-anchor="end" fill="#1c1c1c">0.0</text>
<line x1="1555.71" y1="1451.59" x2="1555.71" y2="1460.59" stroke="#1c1c1c" stroke-width="2.3"/>
<line x1="1627.15" y1="1451.59" x2="1627.15" y2="1460.59" stroke="#1c1c1c" stroke-width="2.3"/>
<line x1="1555.71" y1="1333.71" x2="1555.71" y2="1355.15" stroke="#000" stroke-width="2.5"/>
<line x1="1543.71" y1="1333.71" x2="1567.71" y2="1333.71" stroke="#000" stroke-width="2.5"/>
<line x1="1543.71" y1="1355.15" x2="1567.71" y2="1355.15" stroke="#000" stroke-width="2.5"/>
<line x1="1627.15" y1="1269.93" x2="1627.15" y2="1313.3" stroke="#000" stroke-width="2.5"/>
<line x1="1615.15" y1="1269.93" x2="1639.15" y2="1269.93" stroke="#000" stroke-width="2.5"/>
<line x1="1615.15" y1="1313.3" x2="1639.15" y2="1313.3" stroke="#000" stroke-width="2.5"/>
<circle cx="1555.71" cy="1330.65" r="4.8" fill="#000"/>
<circle cx="1541.93" cy="1345.96" r="4.8" fill="#000"/>
<circle cx="1567.95" cy="1347.49" r="4.8" fill="#000"/>
<circle cx="1555.71" cy="1353.61" r="4.8" fill="#000"/>
<rect x="1622.65" y="1262.88" width="9" height="9" fill="#000"/>
<rect x="1622.65" y="1275.12" width="9" height="9" fill="#000"/>
<rect x="1628.26" y="1303.19" width="9" height="9" fill="#000"/>
<rect x="1617.03" y="1306.76" width="9" height="9" fill="#000"/>
<text transform="translate(1466.13 1340.09) rotate(-90)" font-size="26.91" text-anchor="middle" fill="#1c1c1c">Relative colony number</text>
<text x="1546.52" y="1236.76" font-size="20.5" fill="#333"><tspan font-style="italic">p</tspan>=0.0041</text>
<path d="M1550.6 1258.19 V1249 H1627.15 V1258.19" stroke="#000" stroke-width="2.3" fill="none"/>
<text transform="translate(1561.31 1475.59) rotate(-45)" font-size="23.8" text-anchor="end" fill="#1c1c1c">EVs<tspan dy="-10.23" font-size="17.14">veh-BJ</tspan></text>
<text transform="translate(1632.76 1475.59) rotate(-45)" font-size="23.8" text-anchor="end" fill="#1c1c1c">EVs<tspan dy="-10.23" font-size="17.14">MMA-BJ</tspan></text>
<rect x="194.49" y="1929.83" width="41.4" height="46.85" fill="#666666" stroke="#000" stroke-width="1.7"/>
<rect x="256.05" y="1846.48" width="41.4" height="130.21" fill="#a00000" stroke="#000" stroke-width="1.7"/>
<line x1="183.6" y1="1788.67" x2="183.6" y2="1977.83" stroke="#1c1c1c" stroke-width="2.3"/>
<line x1="182.45" y1="1976.68" x2="308.9" y2="1976.68" stroke="#1c1c1c" stroke-width="2.3"/>
<line x1="176.6" y1="1789.82" x2="183.6" y2="1789.82" stroke="#1c1c1c" stroke-width="2.3"/>
<text x="177.06" y="1797.02" font-size="20" text-anchor="end" fill="#1c1c1c">4</text>
<line x1="176.6" y1="1836.67" x2="183.6" y2="1836.67" stroke="#1c1c1c" stroke-width="2.3"/>
<text x="177.06" y="1843.87" font-size="20" text-anchor="end" fill="#1c1c1c">3</text>
<line x1="176.6" y1="1883.52" x2="183.6" y2="1883.52" stroke="#1c1c1c" stroke-width="2.3"/>
<text x="177.06" y="1890.72" font-size="20" text-anchor="end" fill="#1c1c1c">2</text>
<line x1="176.6" y1="1929.83" x2="183.6" y2="1929.83" stroke="#1c1c1c" stroke-width="2.3"/>
<text x="177.06" y="1937.03" font-size="20" text-anchor="end" fill="#1c1c1c">1</text>
<line x1="176.6" y1="1976.68" x2="183.6" y2="1976.68" stroke="#1c1c1c" stroke-width="2.3"/>
<text x="177.06" y="1983.88" font-size="20" text-anchor="end" fill="#1c1c1c">0</text>
<line x1="215.19" y1="1976.68" x2="215.19" y2="1983.68" stroke="#1c1c1c" stroke-width="2.3"/>
<line x1="276.76" y1="1976.68" x2="276.76" y2="1983.68" stroke="#1c1c1c" stroke-width="2.3"/>
<line x1="215.19" y1="1924.93" x2="215.19" y2="1935.28" stroke="#000" stroke-width="2.5"/>
<line x1="205.19" y1="1924.93" x2="225.19" y2="1924.93" stroke="#000" stroke-width="2.5"/>
<line x1="205.19" y1="1935.28" x2="225.19" y2="1935.28" stroke="#000" stroke-width="2.5"/>
<line x1="276.76" y1="1837.22" x2="276.76" y2="1856.28" stroke="#000" stroke-width="2.5"/>
<line x1="266.76" y1="1837.22" x2="286.76" y2="1837.22" stroke="#000" stroke-width="2.5"/>
<line x1="266.76" y1="1856.28" x2="286.76" y2="1856.28" stroke="#000" stroke-width="2.5"/>
<circle cx="215.19" cy="1921.66" r="4.3" fill="#000"/>
<circle cx="208.66" cy="1932.55" r="4.3" fill="#000"/>
<circle cx="219.55" cy="1934.19" r="4.3" fill="#000"/>
<rect x="266.51" y="1830.79" width="8.5" height="8.5" fill="#000"/>
<rect x="277.41" y="1836.23" width="8.5" height="8.5" fill="#000"/>
<rect x="272.51" y="1859.12" width="8.5" height="8.5" fill="#000"/>
<text transform="translate(154.53 1880.25) rotate(-90)" font-size="23.2" text-anchor="middle" fill="#1c1c1c">Relative invasion</text>
<text x="208.66" y="1806.16" font-size="18" fill="#333"><tspan font-style="italic">p</tspan>=0.0085</text>
<path d="M215.19 1826.32 V1818.15 H276.76 V1826.32" stroke="#000" stroke-width="2.3" fill="none"/>
<text transform="translate(218.39 1996.68) rotate(-45)" font-size="20" text-anchor="end" fill="#1c1c1c">EVs<tspan dy="-8.6" font-size="14.6">veh-MRC5</tspan></text>
<text transform="translate(279.96 1996.68) rotate(-45)" font-size="20" text-anchor="end" fill="#1c1c1c">EVs<tspan dy="-8.6" font-size="14.6">MMA-MRC5</tspan></text>
<text transform="translate(460.9 1886.25) rotate(-90)" font-size="27.3">EVs<tspan dy="-10.1" font-size="17.61">veh-MRC5</tspan></text>
<text transform="translate(460.9 2061.13) rotate(-90)" font-size="27.3">EVs<tspan dy="-10.1" font-size="17.61">MMA-MRC5</tspan></text>
<rect x="592.74" y="1934.73" width="41.4" height="46.31" fill="#666666" stroke="#000" stroke-width="1.7"/>
<rect x="653.75" y="1833.95" width="41.95" height="147.09" fill="#a00000" stroke="#000" stroke-width="1.7"/>
<line x1="581.3" y1="1793.57" x2="581.3" y2="1982.19" stroke="#1c1c1c" stroke-width="2.3"/>
<line x1="580.15" y1="1981.04" x2="706.6" y2="1981.04" stroke="#1c1c1c" stroke-width="2.3"/>
<line x1="574.3" y1="1794.72" x2="581.3" y2="1794.72" stroke="#1c1c1c" stroke-width="2.3"/>
<text x="574.76" y="1801.92" font-size="20" text-anchor="end" fill="#1c1c1c">4</text>
<line x1="574.3" y1="1841.57" x2="581.3" y2="1841.57" stroke="#1c1c1c" stroke-width="2.3"/>
<text x="574.76" y="1848.77" font-size="20" text-anchor="end" fill="#1c1c1c">3</text>
<line x1="574.3" y1="1887.88" x2="581.3" y2="1887.88" stroke="#1c1c1c" stroke-width="2.3"/>
<text x="574.76" y="1895.08" font-size="20" text-anchor="end" fill="#1c1c1c">2</text>
<line x1="574.3" y1="1934.73" x2="581.3" y2="1934.73" stroke="#1c1c1c" stroke-width="2.3"/>
<text x="574.76" y="1941.93" font-size="20" text-anchor="end" fill="#1c1c1c">1</text>
<line x1="574.3" y1="1981.04" x2="581.3" y2="1981.04" stroke="#1c1c1c" stroke-width="2.3"/>
<text x="574.76" y="1988.24" font-size="20" text-anchor="end" fill="#1c1c1c">0</text>
<line x1="612.89" y1="1981.04" x2="612.89" y2="1988.04" stroke="#1c1c1c" stroke-width="2.3"/>
<line x1="675.54" y1="1981.04" x2="675.54" y2="1988.04" stroke="#1c1c1c" stroke-width="2.3"/>
<line x1="612.89" y1="1932.55" x2="612.89" y2="1937.46" stroke="#000" stroke-width="2.5"/>
<line x1="602.89" y1="1932.55" x2="622.89" y2="1932.55" stroke="#000" stroke-width="2.5"/>
<line x1="602.89" y1="1937.46" x2="622.89" y2="1937.46" stroke="#000" stroke-width="2.5"/>
<line x1="675.54" y1="1821.96" x2="675.54" y2="1845.39" stroke="#000" stroke-width="2.5"/>
<line x1="665.54" y1="1821.96" x2="685.54" y2="1821.96" stroke="#000" stroke-width="2.5"/>
<line x1="665.54" y1="1845.39" x2="685.54" y2="1845.39" stroke="#000" stroke-width="2.5"/>
<circle cx="602.54" cy="1930.38" r="4.3" fill="#000"/>
<circle cx="622.7" cy="1935.82" r="4.3" fill="#000"/>
<circle cx="613.98" cy="1938.55" r="4.3" fill="#000"/>
<rect x="665.85" y="1814.44" width="8.5" height="8.5" fill="#000"/>
<rect x="676.2" y="1822.07" width="8.5" height="8.5" fill="#000"/>
<rect x="671.29" y="1852.03" width="8.5" height="8.5" fill="#000"/>
<text transform="translate(552.25 1884.61) rotate(-90)" font-size="23.28" text-anchor="middle" fill="#1c1c1c">Relative migration</text>
<text x="606.36" y="1789.27" font-size="18" fill="#333"><tspan font-style="italic">p</tspan>=0.0076</text>
<path d="M612.89 1809.43 V1801.26 H675.54 V1809.43" stroke="#000" stroke-width="2.3" fill="none"/>
<text transform="translate(616.09 2001.04) rotate(-45)" font-size="20" text-anchor="end" fill="#1c1c1c">EVs<tspan dy="-8.6" font-size="14.6">veh-MRC5</tspan></text>
<text transform="translate(678.74 2001.04) rotate(-45)" font-size="20" text-anchor="end" fill="#1c1c1c">EVs<tspan dy="-8.6" font-size="14.6">MMA-MRC5</tspan></text>
<text transform="translate(850.42 1873.17) rotate(-90)" font-size="27.3">EVs<tspan dy="-10.1" font-size="17.61">veh-MRC5</tspan></text>
<text transform="translate(850.42 2055.13) rotate(-90)" font-size="27.3">EVs<tspan dy="-10.1" font-size="17.61">MMA-MRC5</tspan></text>
<rect x="205.93" y="2294.26" width="39.77" height="69.73" fill="#666666" stroke="#000" stroke-width="1.7"/>
<rect x="264.77" y="2233.79" width="39.23" height="130.21" fill="#a00000" stroke="#000" stroke-width="1.7"/>
<line x1="196.13" y1="2188.51" x2="196.13" y2="2365.15" stroke="#1c1c1c" stroke-width="2.3"/>
<line x1="194.98" y1="2364" x2="313.8" y2="2364" stroke="#1c1c1c" stroke-width="2.3"/>
<line x1="189.13" y1="2189.66" x2="196.13" y2="2189.66" stroke="#1c1c1c" stroke-width="2.3"/>
<text x="189.04" y="2196.68" font-size="19.5" text-anchor="end" fill="#1c1c1c">2.5</text>
<line x1="189.13" y1="2224.53" x2="196.13" y2="2224.53" stroke="#1c1c1c" stroke-width="2.3"/>
<text x="189.04" y="2231.55" font-size="19.5" text-anchor="end" fill="#1c1c1c">2.0</text>
<line x1="189.13" y1="2259.39" x2="196.13" y2="2259.39" stroke="#1c1c1c" stroke-width="2.3"/>
<text x="189.04" y="2266.41" font-size="19.5" text-anchor="end" fill="#1c1c1c">1.5</text>
<line x1="189.13" y1="2294.26" x2="196.13" y2="2294.26" stroke="#1c1c1c" stroke-width="2.3"/>
<text x="189.04" y="2301.28" font-size="19.5" text-anchor="end" fill="#1c1c1c">1.0</text>
<line x1="189.13" y1="2329.13" x2="196.13" y2="2329.13" stroke="#1c1c1c" stroke-width="2.3"/>
<text x="189.04" y="2336.15" font-size="19.5" text-anchor="end" fill="#1c1c1c">0.5</text>
<line x1="189.13" y1="2364" x2="196.13" y2="2364" stroke="#1c1c1c" stroke-width="2.3"/>
<text x="189.04" y="2371.02" font-size="19.5" text-anchor="end" fill="#1c1c1c">0.0</text>
<line x1="225.54" y1="2364" x2="225.54" y2="2371" stroke="#1c1c1c" stroke-width="2.3"/>
<line x1="283.84" y1="2364" x2="283.84" y2="2371" stroke="#1c1c1c" stroke-width="2.3"/>
<line x1="225.54" y1="2285" x2="225.54" y2="2304.07" stroke="#000" stroke-width="2.5"/>
<line x1="215.54" y1="2285" x2="235.54" y2="2285" stroke="#000" stroke-width="2.5"/>
<line x1="215.54" y1="2304.07" x2="235.54" y2="2304.07" stroke="#000" stroke-width="2.5"/>
<line x1="283.84" y1="2220.71" x2="283.84" y2="2246.86" stroke="#000" stroke-width="2.5"/>
<line x1="273.84" y1="2220.71" x2="293.84" y2="2220.71" stroke="#000" stroke-width="2.5"/>
<line x1="273.84" y1="2246.86" x2="293.84" y2="2246.86" stroke="#000" stroke-width="2.5"/>
<circle cx="225.54" cy="2276.83" r="4.3" fill="#000"/>
<circle cx="220.64" cy="2302.43" r="4.3" fill="#000"/>
<circle cx="230.99" cy="2302.43" r="4.3" fill="#000"/>
<rect x="279.59" y="2209.93" width="8.5" height="8.5" fill="#000"/>
<rect x="279.59" y="2225.73" width="8.5" height="8.5" fill="#000"/>
<rect x="279.59" y="2253.51" width="8.5" height="8.5" fill="#000"/>
<text transform="translate(154.21 2273.83) rotate(-90)" font-size="21.98" text-anchor="middle" fill="#1c1c1c">Relative invasion</text>
<text x="219.55" y="2184.21" font-size="17.2" fill="#333"><tspan font-style="italic">p</tspan>=0.0202</text>
<path d="M225.54 2207.09 V2198.92 H283.84 V2207.09" stroke="#000" stroke-width="2.3" fill="none"/>
<text transform="translate(228.74 2384) rotate(-45)" font-size="20" text-anchor="end" fill="#1c1c1c">EVs<tspan dy="-8.6" font-size="14.6">veh-BJ</tspan></text>
<text transform="translate(287.04 2384) rotate(-45)" font-size="20" text-anchor="end" fill="#1c1c1c">EVs<tspan dy="-8.6" font-size="14.6">MMA-BJ</tspan></text>
<text transform="translate(462.53 2260.48) rotate(-90)" font-size="27.3">EVs<tspan dy="-10.1" font-size="17.61">veh-BJ</tspan></text>
<text transform="translate(462.53 2398.86) rotate(-90)" font-size="27.3">EVs<tspan dy="-10.1" font-size="17.61">MMA-BJ</tspan></text>
<rect x="600.36" y="2325.31" width="42.49" height="37.59" fill="#666666" stroke="#000" stroke-width="1.7"/>
<rect x="663.56" y="2212" width="42.49" height="150.91" fill="#a00000" stroke="#000" stroke-width="1.7"/>
<line x1="590.01" y1="2171.62" x2="590.01" y2="2364.06" stroke="#1c1c1c" stroke-width="2.3"/>
<line x1="588.86" y1="2362.91" x2="716.4" y2="2362.91" stroke="#1c1c1c" stroke-width="2.3"/>
<line x1="583.01" y1="2172.77" x2="590.01" y2="2172.77" stroke="#1c1c1c" stroke-width="2.3"/>
<text x="582.93" y="2179.97" font-size="20" text-anchor="end" fill="#1c1c1c">5</text>
<line x1="583.01" y1="2210.91" x2="590.01" y2="2210.91" stroke="#1c1c1c" stroke-width="2.3"/>
<text x="582.93" y="2218.11" font-size="20" text-anchor="end" fill="#1c1c1c">4</text>
<line x1="583.01" y1="2249.04" x2="590.01" y2="2249.04" stroke="#1c1c1c" stroke-width="2.3"/>
<text x="582.93" y="2256.24" font-size="20" text-anchor="end" fill="#1c1c1c">3</text>
<line x1="583.01" y1="2287.18" x2="590.01" y2="2287.18" stroke="#1c1c1c" stroke-width="2.3"/>
<text x="582.93" y="2294.38" font-size="20" text-anchor="end" fill="#1c1c1c">2</text>
<line x1="583.01" y1="2324.77" x2="590.01" y2="2324.77" stroke="#1c1c1c" stroke-width="2.3"/>
<text x="582.93" y="2331.97" font-size="20" text-anchor="end" fill="#1c1c1c">1</text>
<line x1="583.01" y1="2362.91" x2="590.01" y2="2362.91" stroke="#1c1c1c" stroke-width="2.3"/>
<text x="582.93" y="2370.11" font-size="20" text-anchor="end" fill="#1c1c1c">0</text>
<line x1="621.61" y1="2362.91" x2="621.61" y2="2369.91" stroke="#1c1c1c" stroke-width="2.3"/>
<line x1="684.81" y1="2362.91" x2="684.81" y2="2369.91" stroke="#1c1c1c" stroke-width="2.3"/>
<line x1="621.61" y1="2323.68" x2="621.61" y2="2326.95" stroke="#000" stroke-width="2.5"/>
<line x1="611.61" y1="2323.68" x2="631.61" y2="2323.68" stroke="#000" stroke-width="2.5"/>
<line x1="611.61" y1="2326.95" x2="631.61" y2="2326.95" stroke="#000" stroke-width="2.5"/>
<line x1="684.81" y1="2200.56" x2="684.81" y2="2223.44" stroke="#000" stroke-width="2.5"/>
<line x1="674.81" y1="2200.56" x2="694.81" y2="2200.56" stroke="#000" stroke-width="2.5"/>
<line x1="674.81" y1="2223.44" x2="694.81" y2="2223.44" stroke="#000" stroke-width="2.5"/>
<circle cx="610.17" cy="2323.14" r="4.3" fill="#000"/>
<circle cx="621.61" cy="2328.04" r="4.3" fill="#000"/>
<circle cx="631.96" cy="2324.77" r="4.3" fill="#000"/>
<rect x="680.56" y="2188.68" width="8.5" height="8.5" fill="#000"/>
<rect x="680.56" y="2213.74" width="8.5" height="8.5" fill="#000"/>
<rect x="680.56" y="2228.99" width="8.5" height="8.5" fill="#000"/>
<text transform="translate(559.44 2263.75) rotate(-90)" font-size="23.69" text-anchor="middle" fill="#1c1c1c">Relative migration</text>
<text x="614.53" y="2167.87" font-size="17.6" fill="#333"><tspan font-style="italic">p</tspan>=0.0137</text>
<path d="M621.61 2186.94 V2178.77 H684.81 V2186.94" stroke="#000" stroke-width="2.3" fill="none"/>
<text transform="translate(624.81 2382.91) rotate(-45)" font-size="20" text-anchor="end" fill="#1c1c1c">EVs<tspan dy="-8.6" font-size="14.6">veh-BJ</tspan></text>
<text transform="translate(688.01 2382.91) rotate(-45)" font-size="20" text-anchor="end" fill="#1c1c1c">EVs<tspan dy="-8.6" font-size="14.6">MMA-BJ</tspan></text>
<text transform="translate(858.6 2259.94) rotate(-90)" font-size="27.3">EVs<tspan dy="-10.1" font-size="17.61">veh-BJ</tspan></text>
<text transform="translate(858.6 2404.31) rotate(-90)" font-size="27.3">EVs<tspan dy="-10.1" font-size="17.61">MMA-BJ</tspan></text>
<rect x="1215.34" y="1918.52" width="44.91" height="39.8" fill="#999999" stroke="#333" stroke-width="1.7"/>
<rect x="1282.19" y="1924.64" width="44.4" height="33.68" fill="#a00000" stroke="#000" stroke-width="1.7"/>
<line x1="1204.12" y1="1757.85" x2="1204.12" y2="1959.27" stroke="#1c1c1c" stroke-width="1.9"/>
<line x1="1203.17" y1="1958.32" x2="1337.81" y2="1958.32" stroke="#1c1c1c" stroke-width="1.9"/>
<line x1="1197.12" y1="1758.8" x2="1204.12" y2="1758.8" stroke="#1c1c1c" stroke-width="1.9"/>
<text x="1196.97" y="1766.72" font-size="22" text-anchor="end" fill="#1c1c1c">5</text>
<line x1="1197.12" y1="1798.6" x2="1204.12" y2="1798.6" stroke="#1c1c1c" stroke-width="1.9"/>
<text x="1196.97" y="1806.52" font-size="22" text-anchor="end" fill="#1c1c1c">4</text>
<line x1="1197.12" y1="1838.4" x2="1204.12" y2="1838.4" stroke="#1c1c1c" stroke-width="1.9"/>
<text x="1196.97" y="1846.32" font-size="22" text-anchor="end" fill="#1c1c1c">3</text>
<line x1="1197.12" y1="1878.72" x2="1204.12" y2="1878.72" stroke="#1c1c1c" stroke-width="1.9"/>
<text x="1196.97" y="1886.64" font-size="22" text-anchor="end" fill="#1c1c1c">2</text>
<line x1="1197.12" y1="1918.52" x2="1204.12" y2="1918.52" stroke="#1c1c1c" stroke-width="1.9"/>
<text x="1196.97" y="1926.44" font-size="22" text-anchor="end" fill="#1c1c1c">1</text>
<line x1="1197.12" y1="1958.32" x2="1204.12" y2="1958.32" stroke="#1c1c1c" stroke-width="1.9"/>
<text x="1196.97" y="1966.24" font-size="22" text-anchor="end" fill="#1c1c1c">0</text>
<line x1="1237.8" y1="1958.32" x2="1237.8" y2="1966.32" stroke="#1c1c1c" stroke-width="1.9"/>
<line x1="1304.13" y1="1958.32" x2="1304.13" y2="1966.32" stroke="#1c1c1c" stroke-width="1.9"/>
<line x1="1237.8" y1="1901.17" x2="1237.8" y2="1936.38" stroke="#000" stroke-width="2.5"/>
<line x1="1226.8" y1="1901.17" x2="1248.8" y2="1901.17" stroke="#000" stroke-width="2.5"/>
<line x1="1226.8" y1="1936.38" x2="1248.8" y2="1936.38" stroke="#000" stroke-width="2.5"/>
<line x1="1304.13" y1="1916.48" x2="1304.13" y2="1932.81" stroke="#000" stroke-width="2.5"/>
<line x1="1293.13" y1="1916.48" x2="1315.13" y2="1916.48" stroke="#000" stroke-width="2.5"/>
<line x1="1293.13" y1="1932.81" x2="1315.13" y2="1932.81" stroke="#000" stroke-width="2.5"/>
<circle cx="1237.8" cy="1796.56" r="3.9" fill="#000"/>
<circle cx="1237.8" cy="1850.14" r="3.9" fill="#000"/>
<circle cx="1237.8" cy="1908.31" r="3.9" fill="#000"/>
<circle cx="1237.8" cy="1926.17" r="3.9" fill="#000"/>
<circle cx="1219.42" cy="1945.06" r="3.9" fill="#000"/>
<circle cx="1237.8" cy="1945.06" r="3.9" fill="#000"/>
<circle cx="1250.04" cy="1941.99" r="3.9" fill="#000"/>
<circle cx="1226.06" cy="1954.24" r="3.9" fill="#000"/>
<circle cx="1237.8" cy="1957.81" r="3.9" fill="#000"/>
<circle cx="1250.04" cy="1957.81" r="3.9" fill="#000"/>
<rect x="1300.23" y="1870.73" width="7.8" height="7.8" fill="#000"/>
<rect x="1300.23" y="1901.86" width="7.8" height="7.8" fill="#000"/>
<rect x="1306.36" y="1910.03" width="7.8" height="7.8" fill="#000"/>
<rect x="1294.62" y="1919.21" width="7.8" height="7.8" fill="#000"/>
<rect x="1317.58" y="1930.95" width="7.8" height="7.8" fill="#000"/>
<rect x="1283.9" y="1930.95" width="7.8" height="7.8" fill="#000"/>
<rect x="1292.07" y="1939.11" width="7.8" height="7.8" fill="#000"/>
<rect x="1306.36" y="1939.11" width="7.8" height="7.8" fill="#000"/>
<rect x="1300.23" y="1950.34" width="7.8" height="7.8" fill="#000"/>
<text transform="translate(1173.75 1855.5) rotate(-90)" font-size="25.14" text-anchor="middle" fill="#1c1c1c">Relative primary tumor mass</text>
<text transform="translate(1241.66 1980.82) rotate(-45)" font-size="21" text-anchor="end" fill="#1c1c1c">EVs<tspan dy="-9.03" font-size="16.59">veh-MRC5</tspan></text>
<text transform="translate(1307.99 1980.82) rotate(-45)" font-size="21" text-anchor="end" fill="#1c1c1c">EVs<tspan dy="-9.03" font-size="16.59">MMA-MRC5</tspan></text>
<rect x="1552.13" y="1952.71" width="50.01" height="4.59" fill="#ffffff" stroke="#000" stroke-width="1.5"/>
<rect x="1626.13" y="1905.25" width="48.99" height="52.05" fill="#a00000" stroke="#000" stroke-width="1.7"/>
<line x1="1539.89" y1="1735.71" x2="1539.89" y2="1958.45" stroke="#1c1c1c" stroke-width="2.3"/>
<line x1="1538.74" y1="1957.3" x2="1687.36" y2="1957.3" stroke="#1c1c1c" stroke-width="2.3"/>
<line x1="1531.89" y1="1736.86" x2="1539.89" y2="1736.86" stroke="#1c1c1c" stroke-width="2.3"/>
<text x="1532.23" y="1745.86" font-size="25" text-anchor="end" fill="#1c1c1c">50</text>
<line x1="1531.89" y1="1780.74" x2="1539.89" y2="1780.74" stroke="#1c1c1c" stroke-width="2.3"/>
<text x="1532.23" y="1789.74" font-size="25" text-anchor="end" fill="#1c1c1c">40</text>
<line x1="1531.89" y1="1825.14" x2="1539.89" y2="1825.14" stroke="#1c1c1c" stroke-width="2.3"/>
<text x="1532.23" y="1834.14" font-size="25" text-anchor="end" fill="#1c1c1c">30</text>
<line x1="1531.89" y1="1869.02" x2="1539.89" y2="1869.02" stroke="#1c1c1c" stroke-width="2.3"/>
<text x="1532.23" y="1878.02" font-size="25" text-anchor="end" fill="#1c1c1c">20</text>
<line x1="1531.89" y1="1913.42" x2="1539.89" y2="1913.42" stroke="#1c1c1c" stroke-width="2.3"/>
<text x="1532.23" y="1922.42" font-size="25" text-anchor="end" fill="#1c1c1c">10</text>
<line x1="1531.89" y1="1957.3" x2="1539.89" y2="1957.3" stroke="#1c1c1c" stroke-width="2.3"/>
<text x="1532.23" y="1966.3" font-size="25" text-anchor="end" fill="#1c1c1c">0</text>
<line x1="1576.63" y1="1957.3" x2="1576.63" y2="1966.3" stroke="#1c1c1c" stroke-width="2.3"/>
<line x1="1650.62" y1="1957.3" x2="1650.62" y2="1966.3" stroke="#1c1c1c" stroke-width="2.3"/>
<line x1="1576.63" y1="1949.65" x2="1576.63" y2="1955.77" stroke="#000" stroke-width="2.5"/>
<line x1="1565.63" y1="1949.65" x2="1587.63" y2="1949.65" stroke="#000" stroke-width="2.5"/>
<line x1="1565.63" y1="1955.77" x2="1587.63" y2="1955.77" stroke="#000" stroke-width="2.5"/>
<line x1="1650.62" y1="1883.31" x2="1650.62" y2="1927.19" stroke="#000" stroke-width="2.5"/>
<line x1="1638.62" y1="1883.31" x2="1662.62" y2="1883.31" stroke="#000" stroke-width="2.5"/>
<line x1="1638.62" y1="1927.19" x2="1662.62" y2="1927.19" stroke="#000" stroke-width="2.5"/>
<circle cx="1576.63" cy="1932.3" r="4.5" fill="#000"/>
<circle cx="1558.77" cy="1946.59" r="4.5" fill="#000"/>
<circle cx="1563.87" cy="1954.24" r="4.5" fill="#000"/>
<circle cx="1571.53" cy="1955.77" r="4.5" fill="#000"/>
<circle cx="1579.18" cy="1956.28" r="4.5" fill="#000"/>
<circle cx="1586.83" cy="1955.77" r="4.5" fill="#000"/>
<circle cx="1594.49" cy="1954.24" r="4.5" fill="#000"/>
<circle cx="1576.63" cy="1956.79" r="4.5" fill="#000"/>
<circle cx="1567.44" cy="1951.69" r="4.5" fill="#000"/>
<circle cx="1590.41" cy="1952.71" r="4.5" fill="#000"/>
<rect x="1646.47" y="1753.12" width="8.3" height="8.3" fill="#000"/>
<rect x="1646.47" y="1834.25" width="8.3" height="8.3" fill="#000"/>
<rect x="1646.47" y="1899.06" width="8.3" height="8.3" fill="#000"/>
<rect x="1646.47" y="1914.37" width="8.3" height="8.3" fill="#000"/>
<rect x="1638.82" y="1925.09" width="8.3" height="8.3" fill="#000"/>
<rect x="1652.59" y="1934.78" width="8.3" height="8.3" fill="#000"/>
<rect x="1633.2" y="1946.01" width="8.3" height="8.3" fill="#000"/>
<rect x="1646.47" y="1951.11" width="8.3" height="8.3" fill="#000"/>
<rect x="1659.23" y="1950.09" width="8.3" height="8.3" fill="#000"/>
<text transform="translate(1490.85 1842.49) rotate(-90)" font-size="27.78" text-anchor="middle" fill="#1c1c1c">Relative metastasis</text>
<text x="1570.5" y="1727.67" font-size="23.7" fill="#333"><tspan font-style="italic">p</tspan>=0.0267</text>
<path d="M1579.69 1749.1 V1739.92 H1651.64 V1749.1" stroke="#000" stroke-width="2.3" fill="none"/>
<text transform="translate(1580.89 1982.3) rotate(-45)" font-size="23.5" text-anchor="end" fill="#1c1c1c">EVs<tspan dy="-10.11" font-size="18.33">veh-MRC5</tspan></text>
<text transform="translate(1654.88 1982.3) rotate(-45)" font-size="23.5" text-anchor="end" fill="#1c1c1c">EVs<tspan dy="-10.11" font-size="18.33">MMA-MRC5</tspan></text>
<rect x="1213.81" y="2313.61" width="46.44" height="52.05" fill="#808080" stroke="#333" stroke-width="1.7"/>
<rect x="1282.7" y="2290.65" width="46.44" height="75.01" fill="#a00000" stroke="#000" stroke-width="1.7"/>
<line x1="1202.59" y1="2156.47" x2="1202.59" y2="2366.66" stroke="#1c1c1c" stroke-width="2"/>
<line x1="1201.59" y1="2365.66" x2="1340.36" y2="2365.66" stroke="#1c1c1c" stroke-width="2"/>
<line x1="1195.59" y1="2157.47" x2="1202.59" y2="2157.47" stroke="#1c1c1c" stroke-width="2"/>
<text x="1195.44" y="2166.11" font-size="24" text-anchor="end" fill="#1c1c1c">4</text>
<line x1="1195.59" y1="2209.52" x2="1202.59" y2="2209.52" stroke="#1c1c1c" stroke-width="2"/>
<text x="1195.44" y="2218.16" font-size="24" text-anchor="end" fill="#1c1c1c">3</text>
<line x1="1195.59" y1="2261.56" x2="1202.59" y2="2261.56" stroke="#1c1c1c" stroke-width="2"/>
<text x="1195.44" y="2270.2" font-size="24" text-anchor="end" fill="#1c1c1c">2</text>
<line x1="1195.59" y1="2313.61" x2="1202.59" y2="2313.61" stroke="#1c1c1c" stroke-width="2"/>
<text x="1195.44" y="2322.25" font-size="24" text-anchor="end" fill="#1c1c1c">1</text>
<line x1="1195.59" y1="2365.66" x2="1202.59" y2="2365.66" stroke="#1c1c1c" stroke-width="2"/>
<text x="1195.44" y="2374.3" font-size="24" text-anchor="end" fill="#1c1c1c">0</text>
<line x1="1236.77" y1="2365.66" x2="1236.77" y2="2373.66" stroke="#1c1c1c" stroke-width="2"/>
<line x1="1306.17" y1="2365.66" x2="1306.17" y2="2373.66" stroke="#1c1c1c" stroke-width="2"/>
<line x1="1236.77" y1="2293.71" x2="1236.77" y2="2334.54" stroke="#000" stroke-width="2.5"/>
<line x1="1225.27" y1="2293.71" x2="1248.27" y2="2293.71" stroke="#000" stroke-width="2.5"/>
<line x1="1225.27" y1="2334.54" x2="1248.27" y2="2334.54" stroke="#000" stroke-width="2.5"/>
<line x1="1306.17" y1="2270.75" x2="1306.17" y2="2309.02" stroke="#000" stroke-width="2.5"/>
<line x1="1294.67" y1="2270.75" x2="1317.67" y2="2270.75" stroke="#000" stroke-width="2.5"/>
<line x1="1294.67" y1="2309.02" x2="1317.67" y2="2309.02" stroke="#000" stroke-width="2.5"/>
<circle cx="1230.65" cy="2224.31" r="3.9" fill="#000"/>
<circle cx="1242.9" cy="2228.4" r="3.9" fill="#000"/>
<circle cx="1236.77" cy="2316.17" r="3.9" fill="#000"/>
<circle cx="1229.63" cy="2333.01" r="3.9" fill="#000"/>
<circle cx="1243.92" cy="2335.56" r="3.9" fill="#000"/>
<circle cx="1224.53" cy="2354.95" r="3.9" fill="#000"/>
<circle cx="1249.02" cy="2355.97" r="3.9" fill="#000"/>
<circle cx="1236.77" cy="2364.13" r="3.9" fill="#000"/>
<rect x="1302.17" y="2190.21" width="8" height="8" fill="#000"/>
<rect x="1284.82" y="2250.93" width="8" height="8" fill="#000"/>
<rect x="1318.5" y="2255.01" width="8" height="8" fill="#000"/>
<rect x="1295.54" y="2261.14" width="8" height="8" fill="#000"/>
<rect x="1307.28" y="2263.69" width="8" height="8" fill="#000"/>
<rect x="1307.28" y="2324.41" width="8" height="8" fill="#000"/>
<rect x="1295.54" y="2329.52" width="8" height="8" fill="#000"/>
<rect x="1302.17" y="2344.31" width="8" height="8" fill="#000"/>
<rect x="1302.17" y="2360.64" width="8" height="8" fill="#000"/>
<text transform="translate(1170.92 2257.74) rotate(-90)" font-size="26.02" text-anchor="middle" fill="#1c1c1c">Relative primary tumor mass</text>
<text transform="translate(1241.21 2387.16) rotate(-45)" font-size="21.5" text-anchor="end" fill="#1c1c1c">EVs<tspan dy="-9.24" font-size="17.42">veh-BJ</tspan></text>
<text transform="translate(1310.61 2387.16) rotate(-45)" font-size="21.5" text-anchor="end" fill="#1c1c1c">EVs<tspan dy="-9.24" font-size="17.42">MMA--BJ</tspan></text>
<rect x="1554.69" y="2365.15" width="50.01" height="2.04" fill="#808080" stroke="#000" stroke-width="1.5"/>
<rect x="1628.68" y="2292.69" width="48.99" height="74.5" fill="#a00000" stroke="#000" stroke-width="1.7"/>
<line x1="1543.46" y1="2146.62" x2="1543.46" y2="2368.34" stroke="#1c1c1c" stroke-width="2.3"/>
<line x1="1542.31" y1="2367.19" x2="1689.91" y2="2367.19" stroke="#1c1c1c" stroke-width="2.3"/>
<line x1="1535.46" y1="2147.77" x2="1543.46" y2="2147.77" stroke="#1c1c1c" stroke-width="2.3"/>
<text x="1535.81" y="2156.23" font-size="23.5" text-anchor="end" fill="#1c1c1c">150</text>
<line x1="1535.46" y1="2220.74" x2="1543.46" y2="2220.74" stroke="#1c1c1c" stroke-width="2.3"/>
<text x="1535.81" y="2229.2" font-size="23.5" text-anchor="end" fill="#1c1c1c">100</text>
<line x1="1535.46" y1="2294.22" x2="1543.46" y2="2294.22" stroke="#1c1c1c" stroke-width="2.3"/>
<text x="1535.81" y="2302.68" font-size="23.5" text-anchor="end" fill="#1c1c1c">50</text>
<line x1="1535.46" y1="2367.19" x2="1543.46" y2="2367.19" stroke="#1c1c1c" stroke-width="2.3"/>
<text x="1535.81" y="2375.65" font-size="23.5" text-anchor="end" fill="#1c1c1c">0</text>
<line x1="1579.18" y1="2367.19" x2="1579.18" y2="2376.19" stroke="#1c1c1c" stroke-width="2.3"/>
<line x1="1653.17" y1="2367.19" x2="1653.17" y2="2376.19" stroke="#1c1c1c" stroke-width="2.3"/>
<line x1="1653.17" y1="2277.89" x2="1653.17" y2="2306.98" stroke="#000" stroke-width="2.5"/>
<line x1="1641.17" y1="2277.89" x2="1665.17" y2="2277.89" stroke="#000" stroke-width="2.5"/>
<line x1="1641.17" y1="2306.98" x2="1665.17" y2="2306.98" stroke="#000" stroke-width="2.5"/>
<circle cx="1586.83" cy="2358.01" r="3.8" fill="#000"/>
<circle cx="1561.32" cy="2366.17" r="3.8" fill="#000"/>
<circle cx="1568.97" cy="2367.19" r="3.8" fill="#000"/>
<circle cx="1576.63" cy="2367.19" r="3.8" fill="#000"/>
<circle cx="1584.28" cy="2367.19" r="3.8" fill="#000"/>
<circle cx="1591.94" cy="2367.19" r="3.8" fill="#000"/>
<circle cx="1598.06" cy="2366.17" r="3.8" fill="#000"/>
<rect x="1648.67" y="2216.75" width="9" height="9" fill="#000"/>
<rect x="1648.67" y="2239.71" width="9" height="9" fill="#000"/>
<rect x="1648.67" y="2269.82" width="9" height="9" fill="#000"/>
<rect x="1635.91" y="2275.95" width="9" height="9" fill="#000"/>
<rect x="1661.43" y="2283.6" width="9" height="9" fill="#000"/>
<rect x="1648.67" y="2286.15" width="9" height="9" fill="#000"/>
<rect x="1648.67" y="2329.53" width="9" height="9" fill="#000"/>
<rect x="1654.8" y="2342.28" width="9" height="9" fill="#000"/>
<rect x="1642.04" y="2347.39" width="9" height="9" fill="#000"/>
<text transform="translate(1481.63 2252.89) rotate(-90)" font-size="27.66" text-anchor="middle" fill="#1c1c1c">Relative metastasis</text>
<text x="1571.53" y="2173.79" font-size="21.4" fill="#333"><tspan font-style="italic">p</tspan>=0.0003</text>
<path d="M1575.61 2202.88 V2193.7 H1653.17 V2202.88" stroke="#000" stroke-width="2.3" fill="none"/>
<text transform="translate(1583.44 2392.19) rotate(-45)" font-size="23.5" text-anchor="end" fill="#1c1c1c">EVs<tspan dy="-10.11" font-size="18.33">veh-BJ</tspan></text>
<text transform="translate(1657.43 2392.19) rotate(-45)" font-size="23.5" text-anchor="end" fill="#1c1c1c">EVs<tspan dy="-10.11" font-size="18.33">MMA--BJ</tspan></text>
<text x="151.7" y="571.3" font-size="15.7" text-anchor="middle" font-style="italic" fill="#1a1a1a">Additional</text>
<text x="151.7" y="591.3" font-size="15.7" text-anchor="middle" font-style="italic" fill="#1a1a1a">genetic/pharmacological</text>
<text x="151.7" y="609.5" font-size="15.7" text-anchor="middle" font-style="italic" fill="#1a1a1a">manipulations</text>
<text x="151.3" y="640.5" font-size="14" text-anchor="middle" fill="#1a1a1a">+</text>
<text x="141" y="671.3" font-size="15.7" text-anchor="middle" font-weight="bold" fill="#1a1a1a">Treat fibroblasts w/ veh</text>
<text x="141" y="690.5" font-size="15.7" text-anchor="middle" font-weight="bold" fill="#1a1a1a">or MMA, wash, collect</text>
<text x="141" y="709.5" font-size="15.7" text-anchor="middle" font-weight="bold" fill="#1a1a1a">conditioned media</text>
<circle cx="76.8" cy="759.3" r="4" fill="#8a8a8a"/>
<circle cx="103.8" cy="755.8" r="4" fill="#8a8a8a"/>
<circle cx="123.8" cy="761.8" r="4" fill="#8a8a8a"/>
<text x="151.3" y="752.3" font-size="14" text-anchor="middle" fill="#1a1a1a">+</text>
<text x="104.8" y="810" font-size="15.65" text-anchor="middle" fill="#1a1a1a">MMA or vehicle</text>
<ellipse cx="252.1" cy="768.8" rx="70.4" ry="14" fill="#f08e8e" stroke="#222" stroke-width="1.3"/>
<circle cx="229.5" cy="765" r="4" fill="#8a8a8a"/>
<circle cx="256.8" cy="761.8" r="4" fill="#8a8a8a"/>
<circle cx="276.8" cy="767.5" r="4" fill="#8a8a8a"/>
<g transform="translate(207.5 773) rotate(18)"><ellipse rx="9.5" ry="3.6" fill="#d9251d"/><ellipse cx="1" rx="5.7" ry="1.8" fill="#b8150f" opacity=".6"/><ellipse rx="2" ry="1.5" fill="#e8b060"/></g>
<g transform="translate(248.3 774) rotate(24)"><ellipse rx="11" ry="4.4" fill="#d9251d"/><ellipse cx="1" rx="6.6" ry="2.2" fill="#b8150f" opacity=".6"/><ellipse rx="2" ry="1.5" fill="#e8b060"/></g>
<g transform="translate(296.8 768.8) rotate(10)"><ellipse rx="12.5" ry="3.2" fill="#d9251d"/><ellipse cx="1" rx="7.5" ry="1.6" fill="#b8150f" opacity=".6"/><ellipse rx="2" ry="1.5" fill="#e8b060"/></g>
<line x1="181.7" y1="741" x2="181.7" y2="768.8" stroke="#222" stroke-width="1.3"/>
<line x1="322.5" y1="741" x2="322.5" y2="768.8" stroke="#222" stroke-width="1.3"/>
<ellipse cx="252.1" cy="741" rx="70.4" ry="14" fill="none" stroke="#222" stroke-width="1.3"/>
<text x="245.2" y="810" font-size="15.65" text-anchor="middle" fill="#1a1a1a">Fibroblasts</text>
<text x="245.4" y="829.3" font-size="15.65" text-anchor="middle" fill="#1a1a1a">(MRC-5 or BJ)</text>
<line x1="342" y1="756.5" x2="392.5" y2="756.5" stroke="#b4b4b4" stroke-width="1"/>
<path d="M383.5 752 L392.5 756.5 L383.5 761" stroke="#b4b4b4" stroke-width="1" fill="none"/>
<text x="369.4" y="680" font-size="15.7" text-anchor="middle" font-weight="bold" fill="#1a1a1a">Isolate vesicles</text>
<text x="369.4" y="699.3" font-size="15.7" text-anchor="middle" font-weight="bold" fill="#1a1a1a">from conditioned</text>
<text x="369.4" y="718.3" font-size="15.7" text-anchor="middle" font-weight="bold" fill="#1a1a1a">media</text>
<path d="M424 745 H444.3 V766 C444.3 780 439 789 434.2 789 C429.3 789 424 780 424 766 Z" stroke="none" stroke-width="0" fill="#f08e8e"/>
<path d="M424 722.5 V766 C424 780 429.3 789 434.2 789 C439 789 444.3 780 444.3 766 V722.5" stroke="#222" stroke-width="1.4" fill="none"/>
<line x1="424" y1="745" x2="444.3" y2="745" stroke="#222" stroke-width="1.2"/>
<rect x="415.7" y="717.7" width="37.2" height="4.8" fill="#fff" stroke="#222" stroke-width="1.3"/>
<circle cx="430.5" cy="775" r="3.8" fill="#b6c2e6"/>
<circle cx="438.3" cy="775.8" r="3.8" fill="#b6c2e6"/>
<circle cx="434.5" cy="783" r="3.8" fill="#b6c2e6"/>
<text x="345" y="808" font-size="15.6" fill="#1a1a1a">Evs<tspan dy="-4.6" font-size="10.45">manipulation-MMA/veh-MRC5/BJ</tspan></text>
<line x1="475" y1="757.5" x2="525.8" y2="757.5" stroke="#b4b4b4" stroke-width="1"/>
<path d="M516.8 753 L525.8 757.5 L516.8 762" stroke="#b4b4b4" stroke-width="1" fill="none"/>
<text x="618.6" y="567.5" font-size="15.7" text-anchor="middle" font-style="italic" fill="#1a1a1a">Additional</text>
<text x="618.6" y="587" font-size="15.7" text-anchor="middle" font-style="italic" fill="#1a1a1a">genetic/pharmacological</text>
<text x="618.6" y="605.5" font-size="15.7" text-anchor="middle" font-style="italic" fill="#1a1a1a">manipulations</text>
<text x="618" y="642.2" font-size="14" text-anchor="middle" fill="#1a1a1a">+</text>
<text x="642.8" y="675" font-size="15.7" text-anchor="middle" font-weight="bold" fill="#1a1a1a">Add vesicles</text>
<text x="642.8" y="694.3" font-size="15.7" text-anchor="middle" font-weight="bold" fill="#1a1a1a">to tumor cells</text>
<circle cx="547" cy="688.8" r="4" fill="#afc0e6"/>
<circle cx="564.5" cy="700" r="4" fill="#afc0e6"/>
<circle cx="544.3" cy="706.3" r="4" fill="#afc0e6"/>
<ellipse cx="622.3" cy="772" rx="70.3" ry="13.9" fill="#f08e8e" stroke="#222" stroke-width="1.3"/>
<circle cx="572" cy="772" r="3.8" fill="#b6c2e6"/>
<circle cx="613.3" cy="766.5" r="3.8" fill="#b6c2e6"/>
<circle cx="644.3" cy="769" r="3.8" fill="#b6c2e6"/>
<g transform="translate(592 772)"><ellipse transform="rotate(-20)" rx="9.15" ry="7.39" fill="url(#cg1)"/><ellipse cx="1.2" cy="0" rx="3.52" ry="4.05" fill="url(#cn)"/></g>
<g transform="translate(626.3 773.8)"><ellipse transform="rotate(10)" rx="8.32" ry="6.72" fill="url(#cg2)"/><ellipse cx="-0.6" cy="0" rx="3.2" ry="3.68" fill="url(#cn)"/></g>
<g transform="translate(663.8 772)"><ellipse transform="rotate(15)" rx="10.19" ry="8.23" fill="url(#cg2)"/><ellipse cx="-0.6" cy="0" rx="3.92" ry="4.51" fill="url(#cn)"/></g>
<line x1="552" y1="744.3" x2="552" y2="772" stroke="#222" stroke-width="1.3"/>
<line x1="692.6" y1="744.3" x2="692.6" y2="772" stroke="#222" stroke-width="1.3"/>
<ellipse cx="622.3" cy="744.3" rx="70.3" ry="13.9" fill="none" stroke="#222" stroke-width="1.3"/>
<line x1="568.8" y1="715.8" x2="612.2" y2="754.6" stroke="#333" stroke-width="1.3"/>
<path d="M603.8 752.6 L612.2 754.6 L610 746.2" stroke="#333" stroke-width="1.3" fill="none"/>
<text x="629" y="810" font-size="15.65" text-anchor="middle" fill="#1a1a1a">Tumor cells</text>
<text x="628.8" y="829.3" font-size="15.65" text-anchor="middle" fill="#1a1a1a">(A549 or A375)</text>
<line x1="701.3" y1="757.5" x2="751.8" y2="757.5" stroke="#b4b4b4" stroke-width="1"/>
<path d="M742.8 753 L751.8 757.5 L742.8 762" stroke="#b4b4b4" stroke-width="1" fill="none"/>
<text x="832" y="687" font-size="15.7" text-anchor="middle" font-weight="bold" fill="#1a1a1a">Perform functional</text>
<text x="832" y="706.3" font-size="15.7" text-anchor="middle" font-weight="bold" fill="#1a1a1a">assays</text>
<text x="832.5" y="743.8" font-size="15.6" text-anchor="middle" fill="#1a1a1a">(western blot, drug</text>
<text x="832.5" y="763" font-size="15.6" text-anchor="middle" fill="#1a1a1a">resistance assays,</text>
<text x="832.5" y="781.8" font-size="15.6" text-anchor="middle" fill="#1a1a1a">invasion/migration,</text>
<text x="832.5" y="800.8" font-size="15.6" text-anchor="middle" fill="#1a1a1a">metastasis)</text>
<circle cx="378.6" cy="1860" r="42.8" fill="#a0a47e" filter="url(#m1)"/>
<line x1="397.5" y1="1884.8" x2="409" y2="1884.8" stroke="#e8202a" stroke-width="2.2"/>
<circle cx="378.6" cy="1956.1" r="42.8" fill="#a9ad7c" filter="url(#m2)"/>
<circle cx="765" cy="1854.2" r="42.8" fill="#b4b88a" filter="url(#m3)"/>
<circle cx="765" cy="1949.8" r="42.8" fill="#b4b892" filter="url(#m4)"/>
<circle cx="377.7" cy="2224" r="42.8" fill="#a6a880" filter="url(#m5)"/>
<circle cx="377.7" cy="2321.4" r="42.8" fill="#acae84" filter="url(#m6)"/>
<circle cx="768.2" cy="2229.8" r="42.8" fill="#b6b88a" filter="url(#m7)"/>
<circle cx="768.2" cy="2322.3" r="42.8" fill="#b4b696" filter="url(#m8)"/>
</svg>
</body></html>
